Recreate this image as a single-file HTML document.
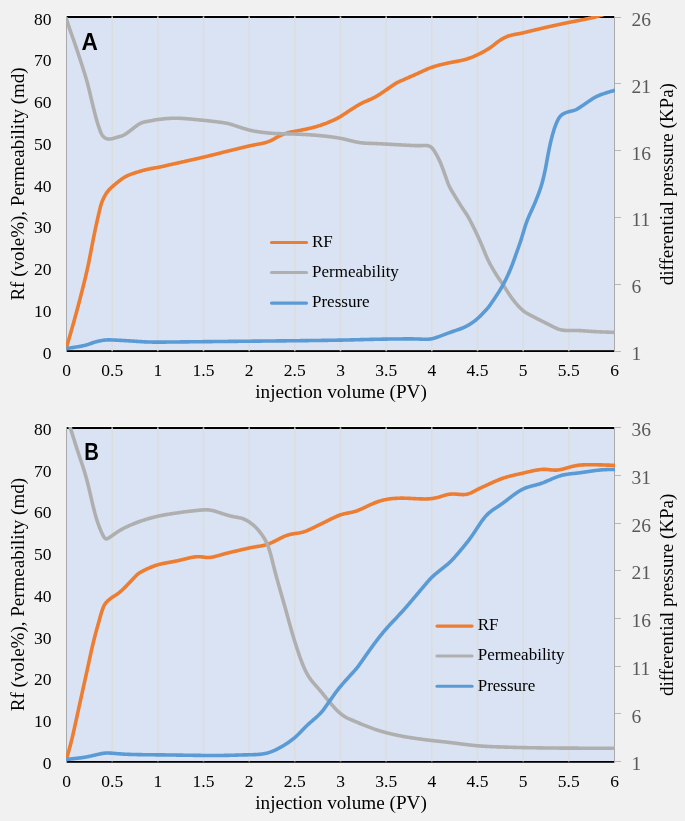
<!DOCTYPE html>
<html><head><meta charset="utf-8"><style>
html,body{margin:0;padding:0;background:#F1F1F1;}
svg{display:block;will-change:transform;}
</style></head><body>
<svg width="685" height="821" viewBox="0 0 685 821">
<rect width="685" height="821" fill="#F1F1F1"/>
<clipPath id="ca"><rect x="66" y="16" width="549" height="336"/></clipPath>
<rect x="66" y="16" width="549" height="336" fill="#DAE3F3"/>
<rect x="66" y="15" width="549" height="1" fill="#FAFAFA"/>
<rect x="66" y="16" width="549" height="2" fill="#000"/>
<rect x="66" y="350" width="549" height="1" fill="#2A2A2A"/>
<rect x="66" y="351" width="549" height="1" fill="#000"/>
<rect x="111.37" y="18" width="1.6" height="332" fill="#DCDDDE"/>
<rect x="111.37" y="16" width="1.6" height="1" fill="#808080"/>
<rect x="111.37" y="17" width="1.6" height="1" fill="#C8C8C8"/>
<rect x="111.37" y="350" width="1.6" height="1" fill="#B8B8B8"/>
<rect x="111.37" y="351" width="1.6" height="1" fill="#3A3A3A"/>
<rect x="157.03" y="18" width="1.6" height="332" fill="#DCDDDE"/>
<rect x="157.03" y="16" width="1.6" height="1" fill="#808080"/>
<rect x="157.03" y="17" width="1.6" height="1" fill="#C8C8C8"/>
<rect x="157.03" y="350" width="1.6" height="1" fill="#B8B8B8"/>
<rect x="157.03" y="351" width="1.6" height="1" fill="#3A3A3A"/>
<rect x="202.70" y="18" width="1.6" height="332" fill="#DCDDDE"/>
<rect x="202.70" y="16" width="1.6" height="1" fill="#808080"/>
<rect x="202.70" y="17" width="1.6" height="1" fill="#C8C8C8"/>
<rect x="202.70" y="350" width="1.6" height="1" fill="#B8B8B8"/>
<rect x="202.70" y="351" width="1.6" height="1" fill="#3A3A3A"/>
<rect x="248.37" y="18" width="1.6" height="332" fill="#DCDDDE"/>
<rect x="248.37" y="16" width="1.6" height="1" fill="#808080"/>
<rect x="248.37" y="17" width="1.6" height="1" fill="#C8C8C8"/>
<rect x="248.37" y="350" width="1.6" height="1" fill="#B8B8B8"/>
<rect x="248.37" y="351" width="1.6" height="1" fill="#3A3A3A"/>
<rect x="294.03" y="18" width="1.6" height="332" fill="#DCDDDE"/>
<rect x="294.03" y="16" width="1.6" height="1" fill="#808080"/>
<rect x="294.03" y="17" width="1.6" height="1" fill="#C8C8C8"/>
<rect x="294.03" y="350" width="1.6" height="1" fill="#B8B8B8"/>
<rect x="294.03" y="351" width="1.6" height="1" fill="#3A3A3A"/>
<rect x="339.70" y="18" width="1.6" height="332" fill="#DCDDDE"/>
<rect x="339.70" y="16" width="1.6" height="1" fill="#808080"/>
<rect x="339.70" y="17" width="1.6" height="1" fill="#C8C8C8"/>
<rect x="339.70" y="350" width="1.6" height="1" fill="#B8B8B8"/>
<rect x="339.70" y="351" width="1.6" height="1" fill="#3A3A3A"/>
<rect x="385.37" y="18" width="1.6" height="332" fill="#DCDDDE"/>
<rect x="385.37" y="16" width="1.6" height="1" fill="#808080"/>
<rect x="385.37" y="17" width="1.6" height="1" fill="#C8C8C8"/>
<rect x="385.37" y="350" width="1.6" height="1" fill="#B8B8B8"/>
<rect x="385.37" y="351" width="1.6" height="1" fill="#3A3A3A"/>
<rect x="431.03" y="18" width="1.6" height="332" fill="#DCDDDE"/>
<rect x="431.03" y="16" width="1.6" height="1" fill="#808080"/>
<rect x="431.03" y="17" width="1.6" height="1" fill="#C8C8C8"/>
<rect x="431.03" y="350" width="1.6" height="1" fill="#B8B8B8"/>
<rect x="431.03" y="351" width="1.6" height="1" fill="#3A3A3A"/>
<rect x="476.70" y="18" width="1.6" height="332" fill="#DCDDDE"/>
<rect x="476.70" y="16" width="1.6" height="1" fill="#808080"/>
<rect x="476.70" y="17" width="1.6" height="1" fill="#C8C8C8"/>
<rect x="476.70" y="350" width="1.6" height="1" fill="#B8B8B8"/>
<rect x="476.70" y="351" width="1.6" height="1" fill="#3A3A3A"/>
<rect x="522.37" y="18" width="1.6" height="332" fill="#DCDDDE"/>
<rect x="522.37" y="16" width="1.6" height="1" fill="#808080"/>
<rect x="522.37" y="17" width="1.6" height="1" fill="#C8C8C8"/>
<rect x="522.37" y="350" width="1.6" height="1" fill="#B8B8B8"/>
<rect x="522.37" y="351" width="1.6" height="1" fill="#3A3A3A"/>
<rect x="568.03" y="18" width="1.6" height="332" fill="#DCDDDE"/>
<rect x="568.03" y="16" width="1.6" height="1" fill="#808080"/>
<rect x="568.03" y="17" width="1.6" height="1" fill="#C8C8C8"/>
<rect x="568.03" y="350" width="1.6" height="1" fill="#B8B8B8"/>
<rect x="568.03" y="351" width="1.6" height="1" fill="#3A3A3A"/>
<rect x="66" y="16" width="1" height="336" fill="#A9A9A9"/>
<rect x="614" y="16" width="1" height="336" fill="#A9A9A9"/>
<path d="M66.30,348.00 L66.50,347.33 L66.69,346.65 L66.89,345.98 L67.09,345.31 L67.29,344.64 L67.49,343.97 L67.68,343.29 L67.88,342.62 L68.08,341.95 L68.28,341.28 L68.48,340.60 L68.67,339.93 L68.87,339.26 L69.07,338.59 L69.26,337.91 L69.46,337.24 L69.66,336.57 L69.85,335.89 L70.05,335.22 L70.24,334.55 L70.44,333.87 L70.63,333.20 L70.83,332.53 L71.02,331.85 L71.21,331.18 L71.41,330.51 L71.60,329.83 L71.79,329.16 L71.98,328.48 L72.17,327.81 L72.36,327.13 L72.55,326.46 L72.74,325.78 L72.93,325.11 L73.12,324.43 L73.30,323.76 L73.49,323.08 L73.68,322.41 L73.87,321.73 L74.05,321.06 L74.24,320.38 L74.43,319.71 L74.61,319.03 L74.80,318.36 L74.99,317.68 L75.17,317.00 L75.36,316.33 L75.54,315.65 L75.73,314.98 L75.91,314.30 L76.10,313.62 L76.28,312.95 L76.46,312.27 L76.65,311.59 L76.83,310.92 L77.01,310.24 L77.19,309.56 L77.38,308.89 L77.56,308.21 L77.74,307.53 L77.92,306.86 L78.10,306.18 L78.28,305.50 L78.46,304.82 L78.64,304.15 L78.82,303.47 L79.00,302.79 L79.17,302.11 L79.35,301.43 L79.53,300.76 L79.70,300.08 L79.88,299.40 L80.06,298.72 L80.23,298.04 L80.41,297.36 L80.58,296.68 L80.76,296.01 L80.93,295.33 L81.10,294.65 L81.28,293.97 L81.45,293.29 L81.63,292.61 L81.80,291.93 L81.97,291.25 L82.14,290.57 L82.32,289.89 L82.49,289.21 L82.66,288.53 L82.83,287.85 L83.00,287.17 L83.17,286.49 L83.34,285.82 L83.51,285.14 L83.68,284.45 L83.85,283.77 L84.02,283.09 L84.19,282.41 L84.35,281.73 L84.52,281.05 L84.69,280.37 L84.86,279.69 L85.02,279.01 L85.19,278.33 L85.35,277.65 L85.52,276.97 L85.68,276.28 L85.84,275.60 L86.00,274.92 L86.16,274.24 L86.33,273.56 L86.48,272.87 L86.64,272.19 L86.80,271.51 L86.96,270.83 L87.11,270.14 L87.27,269.46 L87.42,268.77 L87.57,268.09 L87.72,267.40 L87.86,266.72 L88.01,266.03 L88.16,265.35 L88.30,264.66 L88.44,263.98 L88.58,263.29 L88.72,262.60 L88.86,261.91 L88.99,261.23 L89.13,260.54 L89.26,259.85 L89.40,259.16 L89.53,258.48 L89.66,257.79 L89.80,257.10 L89.93,256.41 L90.06,255.72 L90.20,255.03 L90.33,254.35 L90.46,253.66 L90.60,252.97 L90.73,252.28 L90.87,251.59 L91.00,250.91 L91.14,250.22 L91.27,249.53 L91.41,248.84 L91.54,248.16 L91.68,247.47 L91.81,246.78 L91.95,246.09 L92.08,245.41 L92.22,244.72 L92.35,244.03 L92.49,243.34 L92.62,242.65 L92.75,241.97 L92.89,241.28 L93.02,240.59 L93.16,239.90 L93.29,239.21 L93.42,238.53 L93.56,237.84 L93.69,237.15 L93.83,236.46 L93.97,235.77 L94.10,235.09 L94.24,234.40 L94.38,233.71 L94.52,233.03 L94.66,232.34 L94.80,231.65 L94.94,230.97 L95.08,230.28 L95.23,229.59 L95.37,228.91 L95.52,228.22 L95.66,227.54 L95.81,226.85 L95.96,226.17 L96.11,225.48 L96.26,224.80 L96.41,224.11 L96.56,223.43 L96.71,222.74 L96.87,222.06 L97.02,221.38 L97.17,220.69 L97.33,220.01 L97.48,219.33 L97.64,218.64 L97.79,217.96 L97.95,217.28 L98.11,216.59 L98.27,215.91 L98.42,215.23 L98.58,214.54 L98.74,213.86 L98.90,213.18 L99.07,212.50 L99.23,211.82 L99.39,211.13 L99.55,210.45 L99.72,209.77 L99.88,209.09 L100.05,208.41 L100.22,207.73 L100.39,207.05 L100.57,206.37 L100.76,205.70 L100.95,205.02 L101.15,204.35 L101.36,203.68 L101.58,203.02 L101.81,202.36 L102.06,201.70 L102.32,201.05 L102.59,200.41 L102.87,199.77 L103.17,199.14 L103.48,198.51 L103.79,197.88 L104.11,197.26 L104.43,196.63 L104.76,196.01 L105.09,195.40 L105.43,194.79 L105.78,194.18 L106.14,193.58 L106.52,193.00 L106.92,192.42 L107.33,191.86 L107.76,191.31 L108.20,190.77 L108.66,190.24 L109.13,189.72 L109.62,189.22 L110.11,188.72 L110.61,188.23 L111.12,187.75 L111.63,187.27 L112.15,186.80 L112.68,186.34 L113.21,185.88 L113.74,185.43 L114.28,184.98 L114.81,184.52 L115.35,184.08 L115.89,183.63 L116.43,183.18 L116.97,182.74 L117.52,182.30 L118.07,181.86 L118.61,181.42 L119.17,180.99 L119.72,180.57 L120.28,180.14 L120.84,179.72 L121.41,179.31 L121.98,178.91 L122.56,178.51 L123.14,178.12 L123.73,177.74 L124.32,177.37 L124.92,177.02 L125.53,176.67 L126.15,176.34 L126.77,176.03 L127.40,175.72 L128.04,175.43 L128.68,175.15 L129.33,174.88 L129.98,174.62 L130.63,174.37 L131.29,174.12 L131.95,173.89 L132.61,173.66 L133.27,173.43 L133.94,173.21 L134.60,172.99 L135.27,172.77 L135.93,172.55 L136.60,172.34 L137.27,172.12 L137.94,171.91 L138.61,171.71 L139.28,171.50 L139.95,171.30 L140.62,171.10 L141.29,170.91 L141.97,170.72 L142.65,170.54 L143.32,170.36 L144.00,170.18 L144.68,170.00 L145.36,169.83 L146.04,169.67 L146.72,169.50 L147.40,169.35 L148.09,169.19 L148.77,169.04 L149.46,168.90 L150.14,168.76 L150.83,168.62 L151.52,168.49 L152.21,168.36 L152.90,168.24 L153.59,168.12 L154.28,168.00 L154.97,167.89 L155.66,167.77 L156.35,167.65 L157.05,167.53 L157.74,167.41 L158.42,167.28 L159.11,167.15 L159.80,167.02 L160.49,166.88 L161.17,166.74 L161.86,166.59 L162.54,166.44 L163.23,166.29 L163.91,166.14 L164.59,165.98 L165.28,165.82 L165.96,165.66 L166.64,165.50 L167.33,165.34 L168.01,165.19 L168.69,165.03 L169.37,164.87 L170.06,164.72 L170.74,164.56 L171.43,164.41 L172.11,164.25 L172.79,164.10 L173.48,163.94 L174.16,163.79 L174.84,163.64 L175.53,163.48 L176.21,163.33 L176.90,163.18 L177.58,163.02 L178.26,162.87 L178.95,162.72 L179.63,162.56 L180.32,162.41 L181.00,162.26 L181.68,162.11 L182.37,161.95 L183.05,161.80 L183.74,161.65 L184.42,161.49 L185.10,161.34 L185.79,161.19 L186.47,161.03 L187.16,160.88 L187.84,160.73 L188.52,160.57 L189.21,160.42 L189.89,160.27 L190.58,160.11 L191.26,159.96 L191.94,159.80 L192.63,159.65 L193.31,159.49 L193.99,159.34 L194.68,159.19 L195.36,159.03 L196.04,158.88 L196.73,158.72 L197.41,158.56 L198.09,158.41 L198.78,158.25 L199.46,158.10 L200.14,157.94 L200.83,157.78 L201.51,157.62 L202.19,157.47 L202.88,157.31 L203.56,157.15 L204.24,156.99 L204.92,156.83 L205.60,156.67 L206.29,156.50 L206.97,156.34 L207.65,156.18 L208.33,156.01 L209.01,155.85 L209.69,155.68 L210.37,155.52 L211.06,155.35 L211.74,155.18 L212.42,155.01 L213.10,154.84 L213.78,154.67 L214.46,154.50 L215.14,154.33 L215.82,154.16 L216.50,153.99 L217.17,153.82 L217.85,153.65 L218.53,153.47 L219.21,153.30 L219.89,153.13 L220.57,152.96 L221.25,152.79 L221.93,152.61 L222.61,152.44 L223.29,152.27 L223.97,152.10 L224.65,151.93 L225.33,151.77 L226.01,151.60 L226.69,151.43 L227.37,151.26 L228.05,151.09 L228.73,150.92 L229.41,150.76 L230.09,150.59 L230.77,150.42 L231.45,150.25 L232.14,150.08 L232.82,149.91 L233.50,149.74 L234.18,149.57 L234.86,149.41 L235.54,149.24 L236.22,149.07 L236.90,148.90 L237.58,148.73 L238.26,148.57 L238.94,148.40 L239.62,148.23 L240.30,148.06 L240.98,147.90 L241.66,147.73 L242.34,147.57 L243.03,147.40 L243.71,147.24 L244.39,147.08 L245.07,146.92 L245.75,146.76 L246.44,146.60 L247.12,146.44 L247.80,146.28 L248.48,146.13 L249.17,145.97 L249.85,145.82 L250.54,145.68 L251.22,145.53 L251.91,145.39 L252.60,145.25 L253.29,145.12 L253.97,144.98 L254.66,144.85 L255.35,144.72 L256.04,144.59 L256.73,144.46 L257.42,144.34 L258.11,144.21 L258.80,144.08 L259.49,143.95 L260.17,143.82 L260.86,143.69 L261.55,143.55 L262.23,143.41 L262.92,143.26 L263.60,143.10 L264.28,142.94 L264.96,142.76 L265.64,142.57 L266.31,142.38 L266.97,142.16 L267.63,141.94 L268.29,141.69 L268.94,141.43 L269.58,141.16 L270.22,140.88 L270.86,140.58 L271.49,140.27 L272.11,139.96 L272.73,139.63 L273.35,139.30 L273.96,138.96 L274.57,138.62 L275.18,138.27 L275.78,137.92 L276.39,137.57 L277.00,137.22 L277.61,136.88 L278.23,136.55 L278.85,136.23 L279.48,135.92 L280.12,135.63 L280.75,135.34 L281.40,135.07 L282.05,134.80 L282.70,134.55 L283.35,134.30 L284.01,134.06 L284.67,133.82 L285.33,133.59 L286.00,133.37 L286.67,133.16 L287.34,132.96 L288.01,132.76 L288.68,132.58 L289.36,132.41 L290.04,132.25 L290.73,132.10 L291.42,131.97 L292.10,131.84 L292.79,131.71 L293.48,131.59 L294.17,131.47 L294.86,131.34 L295.55,131.22 L296.24,131.09 L296.93,130.95 L297.62,130.82 L298.30,130.68 L298.99,130.55 L299.68,130.41 L300.37,130.28 L301.06,130.14 L301.74,130.01 L302.43,129.87 L303.12,129.73 L303.80,129.59 L304.49,129.45 L305.18,129.31 L305.86,129.17 L306.55,129.02 L307.24,128.88 L307.92,128.73 L308.60,128.57 L309.29,128.42 L309.97,128.26 L310.65,128.10 L311.33,127.93 L312.01,127.77 L312.69,127.59 L313.37,127.42 L314.05,127.23 L314.72,127.05 L315.40,126.86 L316.07,126.67 L316.74,126.47 L317.42,126.27 L318.09,126.06 L318.75,125.85 L319.42,125.64 L320.09,125.42 L320.75,125.20 L321.42,124.98 L322.08,124.75 L322.74,124.52 L323.40,124.29 L324.06,124.05 L324.72,123.81 L325.38,123.56 L326.03,123.31 L326.68,123.06 L327.33,122.80 L327.98,122.53 L328.63,122.27 L329.28,122.00 L329.93,121.73 L330.57,121.45 L331.21,121.18 L331.86,120.90 L332.50,120.62 L333.14,120.33 L333.78,120.04 L334.41,119.75 L335.05,119.44 L335.67,119.14 L336.30,118.82 L336.92,118.50 L337.54,118.17 L338.15,117.83 L338.76,117.49 L339.37,117.14 L339.98,116.78 L340.58,116.43 L341.18,116.06 L341.77,115.69 L342.37,115.32 L342.96,114.95 L343.55,114.57 L344.14,114.19 L344.72,113.80 L345.31,113.42 L345.90,113.03 L346.48,112.65 L347.06,112.26 L347.65,111.87 L348.23,111.48 L348.82,111.10 L349.40,110.71 L349.98,110.32 L350.57,109.94 L351.15,109.55 L351.74,109.17 L352.33,108.78 L352.92,108.40 L353.50,108.02 L354.09,107.64 L354.69,107.27 L355.28,106.89 L355.87,106.52 L356.47,106.15 L357.07,105.79 L357.67,105.43 L358.28,105.08 L358.88,104.73 L359.49,104.39 L360.11,104.05 L360.73,103.72 L361.35,103.40 L361.98,103.09 L362.61,102.78 L363.24,102.48 L363.88,102.19 L364.52,101.90 L365.16,101.62 L365.80,101.34 L366.45,101.07 L367.09,100.80 L367.74,100.52 L368.38,100.25 L369.03,99.98 L369.67,99.70 L370.31,99.42 L370.95,99.13 L371.59,98.84 L372.22,98.54 L372.85,98.23 L373.48,97.92 L374.10,97.60 L374.72,97.27 L375.34,96.93 L375.95,96.59 L376.55,96.24 L377.15,95.88 L377.75,95.52 L378.35,95.15 L378.94,94.78 L379.53,94.40 L380.12,94.02 L380.71,93.64 L381.29,93.25 L381.88,92.86 L382.46,92.47 L383.04,92.08 L383.62,91.68 L384.20,91.29 L384.78,90.89 L385.35,90.49 L385.93,90.10 L386.51,89.70 L387.08,89.30 L387.66,88.90 L388.23,88.49 L388.81,88.09 L389.38,87.69 L389.96,87.29 L390.53,86.89 L391.11,86.49 L391.68,86.09 L392.26,85.69 L392.84,85.30 L393.42,84.90 L394.00,84.51 L394.58,84.13 L395.17,83.75 L395.77,83.39 L396.37,83.03 L396.98,82.70 L397.60,82.38 L398.22,82.07 L398.85,81.78 L399.49,81.50 L400.13,81.22 L400.77,80.94 L401.42,80.66 L402.06,80.38 L402.70,80.10 L403.34,79.81 L403.98,79.53 L404.62,79.25 L405.26,78.96 L405.90,78.68 L406.55,78.40 L407.19,78.11 L407.83,77.83 L408.47,77.55 L409.11,77.27 L409.75,76.99 L410.39,76.70 L411.04,76.42 L411.68,76.14 L412.32,75.86 L412.96,75.58 L413.60,75.30 L414.25,75.01 L414.89,74.73 L415.53,74.45 L416.17,74.16 L416.81,73.88 L417.45,73.59 L418.09,73.30 L418.72,73.01 L419.36,72.72 L420.00,72.42 L420.63,72.13 L421.27,71.83 L421.90,71.54 L422.54,71.24 L423.18,70.95 L423.81,70.66 L424.45,70.37 L425.09,70.08 L425.73,69.79 L426.37,69.51 L427.02,69.23 L427.66,68.96 L428.31,68.69 L428.95,68.42 L429.61,68.16 L430.26,67.91 L430.91,67.66 L431.57,67.42 L432.23,67.19 L432.90,66.96 L433.56,66.74 L434.23,66.53 L434.90,66.32 L435.57,66.12 L436.24,65.92 L436.91,65.73 L437.59,65.54 L438.27,65.36 L438.94,65.18 L439.62,65.01 L440.30,64.84 L440.98,64.67 L441.67,64.51 L442.35,64.34 L443.03,64.18 L443.71,64.03 L444.40,63.87 L445.08,63.71 L445.76,63.56 L446.45,63.40 L447.13,63.25 L447.81,63.10 L448.50,62.95 L449.18,62.80 L449.87,62.66 L450.56,62.52 L451.24,62.38 L451.93,62.25 L452.62,62.12 L453.31,61.99 L454.00,61.86 L454.69,61.74 L455.38,61.62 L456.07,61.49 L456.76,61.37 L457.45,61.24 L458.14,61.11 L458.83,60.98 L459.51,60.85 L460.20,60.71 L460.89,60.57 L461.57,60.42 L462.25,60.26 L462.93,60.09 L463.61,59.92 L464.29,59.74 L464.96,59.55 L465.64,59.36 L466.31,59.16 L466.98,58.95 L467.65,58.74 L468.31,58.52 L468.97,58.29 L469.64,58.06 L470.29,57.82 L470.95,57.58 L471.61,57.33 L472.26,57.07 L472.91,56.81 L473.56,56.54 L474.20,56.27 L474.84,55.99 L475.49,55.71 L476.13,55.42 L476.76,55.13 L477.40,54.84 L478.03,54.54 L478.66,54.23 L479.29,53.92 L479.92,53.61 L480.54,53.29 L481.16,52.97 L481.78,52.64 L482.40,52.31 L483.02,51.97 L483.63,51.63 L484.24,51.29 L484.85,50.94 L485.46,50.59 L486.06,50.24 L486.66,49.88 L487.26,49.52 L487.86,49.16 L488.46,48.79 L489.05,48.41 L489.64,48.03 L490.22,47.64 L490.80,47.24 L491.37,46.84 L491.93,46.42 L492.49,46.00 L493.05,45.58 L493.60,45.14 L494.14,44.71 L494.69,44.27 L495.24,43.82 L495.78,43.38 L496.33,42.95 L496.88,42.52 L497.44,42.09 L498.00,41.67 L498.57,41.26 L499.14,40.87 L499.72,40.48 L500.31,40.10 L500.91,39.72 L501.50,39.36 L502.11,39.00 L502.72,38.66 L503.33,38.32 L503.95,37.99 L504.57,37.67 L505.20,37.37 L505.84,37.07 L506.48,36.79 L507.12,36.52 L507.77,36.27 L508.43,36.03 L509.09,35.81 L509.76,35.60 L510.43,35.40 L511.11,35.22 L511.79,35.06 L512.47,34.90 L513.16,34.76 L513.84,34.62 L514.53,34.50 L515.22,34.37 L515.91,34.25 L516.60,34.13 L517.29,34.01 L517.98,33.89 L518.67,33.76 L519.36,33.63 L520.05,33.49 L520.74,33.35 L521.42,33.21 L522.11,33.06 L522.79,32.91 L523.47,32.75 L524.16,32.59 L524.84,32.43 L525.52,32.27 L526.20,32.11 L526.88,31.95 L527.57,31.78 L528.25,31.62 L528.93,31.45 L529.61,31.29 L530.29,31.12 L530.97,30.95 L531.65,30.79 L532.33,30.62 L533.01,30.45 L533.69,30.29 L534.37,30.12 L535.06,29.95 L535.74,29.79 L536.42,29.62 L537.10,29.46 L537.78,29.29 L538.46,29.13 L539.14,28.96 L539.82,28.80 L540.51,28.64 L541.19,28.48 L541.87,28.32 L542.55,28.16 L543.23,28.00 L543.92,27.84 L544.60,27.68 L545.28,27.52 L545.97,27.37 L546.65,27.21 L547.33,27.06 L548.02,26.90 L548.70,26.75 L549.39,26.60 L550.07,26.44 L550.75,26.29 L551.44,26.14 L552.12,25.99 L552.81,25.84 L553.49,25.69 L554.18,25.54 L554.86,25.39 L555.55,25.24 L556.23,25.09 L556.92,24.94 L557.60,24.79 L558.29,24.65 L558.97,24.50 L559.66,24.35 L560.34,24.21 L561.03,24.06 L561.71,23.91 L562.40,23.77 L563.08,23.62 L563.77,23.48 L564.46,23.33 L565.14,23.19 L565.83,23.05 L566.51,22.90 L567.20,22.76 L567.89,22.62 L568.57,22.48 L569.26,22.34 L569.95,22.20 L570.64,22.07 L571.32,21.93 L572.01,21.80 L572.70,21.66 L573.39,21.53 L574.08,21.40 L574.76,21.27 L575.45,21.13 L576.14,21.00 L576.83,20.87 L577.52,20.74 L578.21,20.61 L578.89,20.48 L579.58,20.34 L580.27,20.21 L580.96,20.08 L581.65,19.94 L582.33,19.81 L583.02,19.67 L583.71,19.53 L584.40,19.39 L585.08,19.25 L585.77,19.11 L586.45,18.96 L587.14,18.82 L587.83,18.67 L588.51,18.52 L589.20,18.38 L589.88,18.23 L590.57,18.08 L591.25,17.92 L591.93,17.77 L592.62,17.62 L593.30,17.46 L593.98,17.30 L594.66,17.13 L595.34,16.96 L596.02,16.79 L596.70,16.61 L597.38,16.43 L598.05,16.24 L598.73,16.05 L599.40,15.86 L600.07,15.65 L600.74,15.45 L601.41,15.24 L602.08,15.02 L602.74,14.80 L603.40,14.58 L604.07,14.35 L604.73,14.12 L605.39,13.89 L606.05,13.65 L606.71,13.41 L607.37,13.18 L608.03,12.94 L608.69,12.69 L609.34,12.45 L610.00,12.21 L610.66,11.96 L611.31,11.72 L611.97,11.47 L612.63,11.23 L613.29,10.99 L613.94,10.74 L614.60,10.50" fill="none" stroke="#ED7D31" stroke-width="3.6" stroke-linejoin="round" stroke-linecap="round" clip-path="url(#ca)"/>
<path d="M66.30,18.50 L66.50,19.17 L66.71,19.84 L66.91,20.51 L67.12,21.18 L67.33,21.85 L67.54,22.52 L67.75,23.19 L67.97,23.85 L68.18,24.52 L68.40,25.19 L68.62,25.85 L68.85,26.52 L69.07,27.18 L69.30,27.84 L69.53,28.51 L69.76,29.17 L69.99,29.83 L70.22,30.49 L70.45,31.15 L70.69,31.81 L70.92,32.47 L71.15,33.14 L71.39,33.80 L71.62,34.46 L71.86,35.12 L72.09,35.78 L72.33,36.44 L72.56,37.10 L72.79,37.76 L73.03,38.42 L73.26,39.08 L73.49,39.74 L73.72,40.40 L73.96,41.07 L74.19,41.73 L74.42,42.39 L74.65,43.05 L74.87,43.72 L75.10,44.38 L75.33,45.04 L75.56,45.71 L75.78,46.37 L76.00,47.03 L76.23,47.70 L76.45,48.36 L76.67,49.03 L76.89,49.69 L77.12,50.36 L77.34,51.02 L77.56,51.69 L77.78,52.35 L78.00,53.02 L78.22,53.68 L78.44,54.35 L78.66,55.02 L78.88,55.68 L79.10,56.35 L79.32,57.01 L79.54,57.68 L79.76,58.34 L79.98,59.01 L80.19,59.68 L80.41,60.34 L80.63,61.01 L80.85,61.67 L81.06,62.34 L81.28,63.01 L81.50,63.67 L81.71,64.34 L81.93,65.01 L82.14,65.68 L82.36,66.34 L82.57,67.01 L82.79,67.68 L83.00,68.35 L83.21,69.01 L83.42,69.68 L83.63,70.35 L83.85,71.02 L84.06,71.69 L84.26,72.36 L84.47,73.03 L84.68,73.70 L84.89,74.37 L85.09,75.04 L85.29,75.71 L85.50,76.38 L85.70,77.05 L85.90,77.72 L86.10,78.39 L86.29,79.07 L86.49,79.74 L86.68,80.41 L86.87,81.09 L87.06,81.76 L87.25,82.44 L87.43,83.12 L87.61,83.79 L87.79,84.47 L87.97,85.15 L88.14,85.83 L88.32,86.51 L88.49,87.19 L88.66,87.87 L88.83,88.55 L88.99,89.23 L89.16,89.91 L89.32,90.59 L89.48,91.27 L89.65,91.95 L89.81,92.64 L89.97,93.32 L90.13,94.00 L90.28,94.68 L90.44,95.37 L90.60,96.05 L90.76,96.73 L90.92,97.42 L91.08,98.10 L91.24,98.78 L91.41,99.46 L91.57,100.14 L91.74,100.82 L91.90,101.50 L92.07,102.19 L92.24,102.87 L92.41,103.55 L92.58,104.23 L92.74,104.91 L92.91,105.59 L93.08,106.27 L93.25,106.95 L93.41,107.63 L93.58,108.31 L93.75,108.99 L93.92,109.67 L94.08,110.35 L94.25,111.03 L94.42,111.71 L94.59,112.39 L94.76,113.07 L94.94,113.75 L95.11,114.43 L95.28,115.11 L95.46,115.79 L95.64,116.47 L95.82,117.14 L96.01,117.82 L96.19,118.50 L96.38,119.17 L96.57,119.84 L96.77,120.52 L96.96,121.19 L97.16,121.86 L97.36,122.53 L97.57,123.20 L97.78,123.87 L97.99,124.54 L98.21,125.21 L98.43,125.87 L98.65,126.54 L98.88,127.20 L99.11,127.86 L99.34,128.52 L99.58,129.18 L99.82,129.84 L100.07,130.50 L100.32,131.15 L100.58,131.80 L100.85,132.45 L101.14,133.08 L101.43,133.71 L101.75,134.33 L102.10,134.93 L102.48,135.51 L102.89,136.06 L103.34,136.57 L103.83,137.04 L104.36,137.47 L104.92,137.85 L105.51,138.18 L106.13,138.46 L106.77,138.69 L107.43,138.87 L108.09,138.99 L108.77,139.05 L109.45,139.06 L110.13,139.01 L110.82,138.92 L111.50,138.80 L112.18,138.66 L112.86,138.49 L113.54,138.32 L114.21,138.13 L114.89,137.94 L115.56,137.74 L116.23,137.54 L116.90,137.35 L117.58,137.15 L118.25,136.95 L118.92,136.76 L119.60,136.57 L120.27,136.37 L120.93,136.16 L121.60,135.94 L122.25,135.70 L122.90,135.43 L123.53,135.15 L124.15,134.84 L124.77,134.50 L125.37,134.15 L125.96,133.77 L126.54,133.39 L127.11,132.99 L127.68,132.58 L128.25,132.16 L128.80,131.74 L129.36,131.31 L129.92,130.89 L130.47,130.45 L131.02,130.02 L131.57,129.59 L132.13,129.16 L132.68,128.73 L133.24,128.31 L133.80,127.88 L134.36,127.46 L134.92,127.04 L135.48,126.63 L136.05,126.21 L136.61,125.80 L137.18,125.39 L137.76,124.99 L138.34,124.60 L138.92,124.22 L139.52,123.87 L140.13,123.53 L140.76,123.22 L141.39,122.94 L142.04,122.68 L142.70,122.45 L143.36,122.25 L144.04,122.07 L144.72,121.90 L145.40,121.75 L146.09,121.61 L146.77,121.49 L147.46,121.37 L148.16,121.25 L148.85,121.14 L149.54,121.02 L150.23,120.91 L150.92,120.78 L151.61,120.65 L152.29,120.52 L152.98,120.37 L153.66,120.23 L154.34,120.08 L155.03,119.95 L155.72,119.83 L156.41,119.72 L157.10,119.62 L157.80,119.54 L158.49,119.45 L159.19,119.37 L159.88,119.29 L160.58,119.21 L161.28,119.14 L161.97,119.06 L162.67,118.98 L163.37,118.91 L164.07,118.84 L164.76,118.77 L165.46,118.71 L166.16,118.64 L166.86,118.58 L167.56,118.53 L168.25,118.48 L168.95,118.43 L169.65,118.38 L170.35,118.35 L171.05,118.31 L171.75,118.28 L172.45,118.26 L173.15,118.24 L173.86,118.22 L174.56,118.22 L175.26,118.21 L175.96,118.22 L176.66,118.23 L177.36,118.24 L178.06,118.26 L178.76,118.28 L179.46,118.31 L180.16,118.34 L180.86,118.37 L181.56,118.41 L182.26,118.45 L182.96,118.49 L183.66,118.54 L184.36,118.58 L185.06,118.63 L185.76,118.68 L186.46,118.74 L187.16,118.79 L187.85,118.85 L188.55,118.90 L189.25,118.96 L189.95,119.02 L190.65,119.08 L191.35,119.15 L192.04,119.21 L192.74,119.27 L193.44,119.34 L194.14,119.40 L194.84,119.47 L195.53,119.54 L196.23,119.60 L196.93,119.67 L197.63,119.74 L198.32,119.81 L199.02,119.88 L199.72,119.95 L200.42,120.02 L201.11,120.09 L201.81,120.16 L202.51,120.23 L203.21,120.30 L203.90,120.37 L204.60,120.44 L205.30,120.51 L206.00,120.58 L206.69,120.66 L207.39,120.73 L208.09,120.80 L208.78,120.88 L209.48,120.95 L210.18,121.03 L210.88,121.10 L211.57,121.18 L212.27,121.26 L212.97,121.34 L213.66,121.42 L214.36,121.50 L215.05,121.58 L215.75,121.67 L216.45,121.75 L217.14,121.84 L217.84,121.93 L218.53,122.02 L219.23,122.11 L219.92,122.20 L220.62,122.30 L221.31,122.40 L222.00,122.50 L222.70,122.60 L223.39,122.71 L224.08,122.82 L224.77,122.94 L225.46,123.06 L226.15,123.18 L226.84,123.32 L227.53,123.46 L228.21,123.61 L228.89,123.77 L229.57,123.94 L230.25,124.12 L230.92,124.31 L231.59,124.51 L232.26,124.72 L232.92,124.94 L233.59,125.17 L234.25,125.39 L234.91,125.62 L235.58,125.85 L236.24,126.07 L236.91,126.29 L237.57,126.51 L238.24,126.72 L238.91,126.94 L239.58,127.15 L240.24,127.36 L240.91,127.57 L241.58,127.78 L242.25,128.00 L242.92,128.21 L243.59,128.42 L244.26,128.63 L244.93,128.83 L245.60,129.03 L246.27,129.23 L246.94,129.42 L247.62,129.61 L248.30,129.79 L248.97,129.97 L249.65,130.13 L250.34,130.30 L251.02,130.46 L251.70,130.61 L252.39,130.75 L253.08,130.89 L253.76,131.02 L254.45,131.15 L255.14,131.27 L255.83,131.39 L256.53,131.50 L257.22,131.60 L257.91,131.71 L258.61,131.81 L259.30,131.91 L259.99,132.00 L260.69,132.09 L261.38,132.19 L262.08,132.28 L262.77,132.36 L263.47,132.45 L264.17,132.53 L264.86,132.61 L265.56,132.69 L266.26,132.77 L266.95,132.84 L267.65,132.91 L268.35,132.97 L269.05,133.04 L269.74,133.10 L270.44,133.15 L271.14,133.21 L271.84,133.26 L272.54,133.31 L273.24,133.35 L273.94,133.39 L274.64,133.43 L275.34,133.47 L276.04,133.50 L276.74,133.53 L277.44,133.56 L278.14,133.59 L278.84,133.61 L279.54,133.64 L280.24,133.66 L280.94,133.68 L281.64,133.70 L282.34,133.71 L283.05,133.73 L283.75,133.75 L284.45,133.77 L285.15,133.78 L285.85,133.80 L286.55,133.82 L287.25,133.83 L287.95,133.85 L288.65,133.87 L289.35,133.89 L290.05,133.91 L290.75,133.93 L291.45,133.95 L292.16,133.97 L292.86,133.99 L293.56,134.02 L294.26,134.05 L294.96,134.07 L295.66,134.10 L296.36,134.13 L297.06,134.16 L297.76,134.19 L298.46,134.22 L299.16,134.26 L299.86,134.29 L300.56,134.32 L301.26,134.35 L301.96,134.39 L302.66,134.42 L303.36,134.45 L304.06,134.49 L304.76,134.52 L305.46,134.56 L306.16,134.60 L306.86,134.63 L307.56,134.67 L308.26,134.71 L308.96,134.75 L309.66,134.80 L310.36,134.84 L311.06,134.89 L311.76,134.93 L312.46,134.98 L313.16,135.03 L313.86,135.09 L314.55,135.14 L315.25,135.20 L315.95,135.25 L316.65,135.31 L317.35,135.38 L318.05,135.44 L318.74,135.50 L319.44,135.57 L320.14,135.64 L320.84,135.71 L321.53,135.78 L322.23,135.85 L322.93,135.92 L323.63,135.99 L324.32,136.07 L325.02,136.15 L325.72,136.22 L326.41,136.30 L327.11,136.38 L327.81,136.47 L328.50,136.55 L329.20,136.64 L329.89,136.72 L330.59,136.81 L331.28,136.90 L331.98,136.99 L332.67,137.09 L333.37,137.18 L334.06,137.28 L334.76,137.38 L335.45,137.48 L336.14,137.59 L336.83,137.69 L337.53,137.80 L338.22,137.92 L338.91,138.03 L339.60,138.15 L340.29,138.27 L340.98,138.40 L341.67,138.54 L342.35,138.68 L343.04,138.82 L343.72,138.98 L344.41,139.13 L345.09,139.29 L345.77,139.46 L346.45,139.63 L347.13,139.80 L347.81,139.97 L348.49,140.14 L349.17,140.32 L349.85,140.50 L350.52,140.67 L351.20,140.84 L351.88,141.02 L352.56,141.19 L353.24,141.35 L353.93,141.51 L354.61,141.67 L355.29,141.82 L355.98,141.96 L356.67,142.10 L357.35,142.23 L358.04,142.35 L358.74,142.46 L359.43,142.57 L360.12,142.67 L360.82,142.76 L361.51,142.84 L362.21,142.91 L362.91,142.98 L363.61,143.04 L364.30,143.09 L365.00,143.14 L365.70,143.18 L366.40,143.22 L367.10,143.25 L367.80,143.28 L368.50,143.31 L369.20,143.33 L369.90,143.36 L370.61,143.38 L371.31,143.40 L372.01,143.42 L372.71,143.45 L373.41,143.47 L374.11,143.49 L374.81,143.52 L375.51,143.55 L376.21,143.58 L376.91,143.61 L377.61,143.64 L378.31,143.68 L379.01,143.71 L379.71,143.75 L380.41,143.78 L381.11,143.82 L381.81,143.86 L382.51,143.90 L383.21,143.94 L383.91,143.98 L384.61,144.01 L385.31,144.05 L386.01,144.09 L386.71,144.13 L387.41,144.17 L388.11,144.21 L388.81,144.25 L389.51,144.29 L390.21,144.33 L390.91,144.37 L391.61,144.40 L392.31,144.44 L393.01,144.48 L393.71,144.52 L394.41,144.56 L395.11,144.60 L395.81,144.64 L396.51,144.68 L397.21,144.71 L397.91,144.75 L398.61,144.79 L399.31,144.83 L400.01,144.87 L400.71,144.90 L401.41,144.94 L402.11,144.98 L402.81,145.02 L403.51,145.05 L404.21,145.09 L404.91,145.13 L405.61,145.16 L406.31,145.20 L407.01,145.23 L407.71,145.27 L408.41,145.30 L409.11,145.34 L409.81,145.37 L410.51,145.40 L411.21,145.44 L411.91,145.47 L412.61,145.50 L413.31,145.53 L414.01,145.55 L414.71,145.58 L415.41,145.60 L416.11,145.62 L416.81,145.63 L417.51,145.65 L418.21,145.65 L418.92,145.65 L419.62,145.65 L420.32,145.64 L421.02,145.62 L421.72,145.60 L422.42,145.57 L423.12,145.55 L423.82,145.53 L424.52,145.51 L425.22,145.51 L425.91,145.53 L426.61,145.57 L427.29,145.64 L427.97,145.75 L428.63,145.91 L429.28,146.12 L429.89,146.39 L430.48,146.71 L431.03,147.10 L431.55,147.53 L432.05,148.01 L432.51,148.52 L432.95,149.06 L433.37,149.61 L433.77,150.18 L434.15,150.77 L434.53,151.36 L434.89,151.95 L435.25,152.56 L435.60,153.16 L435.95,153.77 L436.30,154.38 L436.64,154.99 L436.97,155.61 L437.31,156.22 L437.64,156.84 L437.96,157.46 L438.28,158.09 L438.59,158.72 L438.90,159.35 L439.20,159.98 L439.50,160.61 L439.79,161.25 L440.08,161.89 L440.36,162.53 L440.63,163.18 L440.90,163.82 L441.17,164.47 L441.43,165.12 L441.68,165.77 L441.93,166.43 L442.18,167.08 L442.43,167.74 L442.67,168.40 L442.91,169.05 L443.16,169.71 L443.40,170.37 L443.63,171.03 L443.87,171.69 L444.11,172.35 L444.35,173.01 L444.59,173.67 L444.83,174.33 L445.07,174.99 L445.30,175.65 L445.53,176.31 L445.77,176.97 L446.00,177.63 L446.22,178.29 L446.45,178.96 L446.68,179.62 L446.91,180.28 L447.15,180.94 L447.38,181.60 L447.62,182.26 L447.87,182.91 L448.12,183.57 L448.39,184.22 L448.66,184.86 L448.94,185.51 L449.23,186.14 L449.53,186.78 L449.83,187.40 L450.15,188.03 L450.48,188.65 L450.81,189.26 L451.16,189.87 L451.51,190.48 L451.86,191.09 L452.22,191.69 L452.58,192.29 L452.94,192.89 L453.31,193.49 L453.68,194.08 L454.04,194.68 L454.41,195.28 L454.78,195.88 L455.14,196.47 L455.51,197.07 L455.87,197.67 L456.24,198.27 L456.61,198.86 L456.97,199.46 L457.34,200.06 L457.71,200.65 L458.08,201.25 L458.45,201.84 L458.82,202.44 L459.20,203.03 L459.57,203.63 L459.94,204.22 L460.32,204.81 L460.69,205.41 L461.07,206.00 L461.44,206.59 L461.82,207.18 L462.20,207.77 L462.59,208.35 L462.97,208.94 L463.36,209.52 L463.75,210.10 L464.15,210.68 L464.55,211.26 L464.94,211.83 L465.34,212.41 L465.73,212.99 L466.12,213.58 L466.50,214.16 L466.88,214.76 L467.25,215.35 L467.61,215.95 L467.97,216.55 L468.32,217.16 L468.66,217.77 L469.00,218.39 L469.33,219.00 L469.66,219.62 L469.99,220.24 L470.32,220.86 L470.64,221.48 L470.96,222.11 L471.28,222.73 L471.59,223.36 L471.91,223.98 L472.22,224.61 L472.54,225.24 L472.85,225.86 L473.16,226.49 L473.47,227.12 L473.78,227.75 L474.08,228.38 L474.39,229.01 L474.70,229.64 L475.00,230.27 L475.31,230.90 L475.61,231.53 L475.91,232.17 L476.22,232.80 L476.52,233.43 L476.81,234.07 L477.11,234.70 L477.41,235.34 L477.70,235.97 L477.99,236.61 L478.28,237.25 L478.57,237.89 L478.86,238.53 L479.15,239.17 L479.43,239.81 L479.72,240.45 L480.00,241.09 L480.28,241.73 L480.57,242.37 L480.85,243.01 L481.13,243.66 L481.40,244.30 L481.68,244.94 L481.95,245.59 L482.22,246.24 L482.49,246.88 L482.76,247.53 L483.03,248.18 L483.29,248.83 L483.55,249.48 L483.82,250.13 L484.08,250.78 L484.34,251.43 L484.60,252.08 L484.86,252.73 L485.13,253.38 L485.40,254.03 L485.66,254.67 L485.94,255.32 L486.21,255.97 L486.49,256.61 L486.77,257.25 L487.05,257.89 L487.34,258.53 L487.64,259.17 L487.94,259.80 L488.24,260.43 L488.55,261.06 L488.87,261.69 L489.19,262.31 L489.51,262.93 L489.84,263.55 L490.17,264.17 L490.50,264.78 L490.84,265.40 L491.18,266.01 L491.52,266.62 L491.87,267.23 L492.22,267.84 L492.57,268.45 L492.92,269.05 L493.28,269.66 L493.63,270.26 L493.99,270.86 L494.35,271.47 L494.71,272.07 L495.07,272.67 L495.44,273.27 L495.80,273.86 L496.17,274.46 L496.54,275.06 L496.91,275.65 L497.29,276.24 L497.67,276.83 L498.05,277.42 L498.44,278.00 L498.84,278.58 L499.23,279.16 L499.63,279.73 L500.03,280.31 L500.43,280.89 L500.83,281.46 L501.22,282.04 L501.62,282.62 L502.01,283.20 L502.40,283.78 L502.79,284.36 L503.18,284.95 L503.56,285.54 L503.94,286.13 L504.32,286.72 L504.70,287.31 L505.07,287.90 L505.45,288.49 L505.83,289.08 L506.20,289.67 L506.58,290.26 L506.96,290.85 L507.34,291.44 L507.72,292.03 L508.10,292.62 L508.48,293.21 L508.87,293.79 L509.25,294.38 L509.64,294.96 L510.04,295.54 L510.43,296.12 L510.83,296.69 L511.24,297.27 L511.65,297.83 L512.06,298.40 L512.48,298.96 L512.90,299.52 L513.33,300.08 L513.76,300.63 L514.19,301.18 L514.63,301.73 L515.07,302.27 L515.52,302.81 L515.97,303.35 L516.43,303.88 L516.88,304.41 L517.35,304.94 L517.82,305.46 L518.29,305.97 L518.77,306.49 L519.25,306.99 L519.74,307.49 L520.23,307.99 L520.74,308.48 L521.24,308.96 L521.76,309.43 L522.28,309.90 L522.82,310.35 L523.36,310.80 L523.91,311.23 L524.47,311.65 L525.04,312.05 L525.61,312.45 L526.20,312.83 L526.80,313.20 L527.40,313.55 L528.01,313.90 L528.62,314.24 L529.24,314.57 L529.86,314.90 L530.48,315.23 L531.10,315.55 L531.72,315.88 L532.34,316.20 L532.96,316.53 L533.58,316.85 L534.20,317.18 L534.82,317.50 L535.44,317.83 L536.07,318.15 L536.69,318.47 L537.31,318.79 L537.94,319.10 L538.57,319.42 L539.19,319.73 L539.82,320.05 L540.45,320.36 L541.08,320.67 L541.70,320.98 L542.33,321.29 L542.96,321.60 L543.59,321.91 L544.22,322.23 L544.85,322.54 L545.47,322.85 L546.10,323.16 L546.73,323.47 L547.35,323.79 L547.98,324.11 L548.60,324.43 L549.23,324.75 L549.85,325.07 L550.47,325.40 L551.09,325.72 L551.71,326.05 L552.33,326.37 L552.96,326.69 L553.58,327.01 L554.21,327.32 L554.84,327.62 L555.48,327.91 L556.12,328.19 L556.76,328.46 L557.41,328.72 L558.07,328.96 L558.73,329.18 L559.40,329.39 L560.07,329.58 L560.75,329.74 L561.43,329.89 L562.12,330.02 L562.81,330.14 L563.50,330.23 L564.20,330.31 L564.90,330.38 L565.59,330.44 L566.29,330.48 L566.99,330.52 L567.69,330.54 L568.39,330.55 L569.09,330.55 L569.79,330.55 L570.49,330.54 L571.19,330.53 L571.90,330.52 L572.60,330.51 L573.30,330.49 L574.00,330.49 L574.70,330.48 L575.40,330.48 L576.10,330.48 L576.80,330.49 L577.50,330.51 L578.20,330.53 L578.90,330.56 L579.60,330.59 L580.30,330.62 L581.00,330.66 L581.70,330.71 L582.40,330.76 L583.10,330.80 L583.80,330.85 L584.50,330.91 L585.20,330.96 L585.90,331.01 L586.60,331.06 L587.29,331.12 L587.99,331.17 L588.69,331.22 L589.39,331.27 L590.09,331.32 L590.79,331.37 L591.49,331.42 L592.19,331.46 L592.89,331.51 L593.59,331.55 L594.29,331.59 L594.99,331.62 L595.69,331.66 L596.39,331.69 L597.09,331.73 L597.79,331.76 L598.49,331.79 L599.19,331.82 L599.89,331.85 L600.59,331.88 L601.29,331.90 L601.99,331.93 L602.69,331.96 L603.39,331.99 L604.09,332.01 L604.79,332.04 L605.49,332.07 L606.19,332.09 L606.89,332.12 L607.59,332.14 L608.30,332.17 L609.00,332.20 L609.70,332.22 L610.40,332.25 L611.10,332.27 L611.80,332.30 L612.50,332.32 L613.20,332.35 L613.90,332.37 L614.60,332.40" fill="none" stroke="#AFAFAF" stroke-width="3.6" stroke-linejoin="round" stroke-linecap="round" clip-path="url(#ca)"/>
<path d="M66.20,348.60 L66.89,348.49 L67.58,348.38 L68.28,348.27 L68.97,348.16 L69.66,348.05 L70.35,347.95 L71.05,347.84 L71.74,347.73 L72.43,347.62 L73.12,347.51 L73.82,347.40 L74.51,347.29 L75.20,347.18 L75.89,347.07 L76.58,346.95 L77.27,346.84 L77.97,346.72 L78.66,346.61 L79.35,346.48 L80.04,346.36 L80.73,346.24 L81.41,346.11 L82.10,345.97 L82.79,345.83 L83.47,345.69 L84.16,345.54 L84.84,345.37 L85.52,345.20 L86.19,345.02 L86.86,344.82 L87.53,344.61 L88.20,344.39 L88.86,344.17 L89.52,343.93 L90.18,343.69 L90.84,343.45 L91.49,343.21 L92.15,342.97 L92.82,342.74 L93.48,342.52 L94.15,342.32 L94.82,342.12 L95.49,341.93 L96.17,341.75 L96.85,341.57 L97.53,341.41 L98.21,341.25 L98.90,341.09 L99.58,340.95 L100.27,340.81 L100.95,340.67 L101.64,340.54 L102.33,340.42 L103.02,340.31 L103.72,340.21 L104.41,340.12 L105.11,340.04 L105.80,339.98 L106.50,339.93 L107.20,339.89 L107.90,339.87 L108.60,339.86 L109.30,339.87 L110.00,339.88 L110.70,339.90 L111.40,339.93 L112.10,339.96 L112.80,339.99 L113.50,340.02 L114.20,340.05 L114.90,340.08 L115.60,340.11 L116.30,340.15 L117.00,340.18 L117.70,340.22 L118.40,340.25 L119.10,340.29 L119.80,340.33 L120.50,340.37 L121.20,340.41 L121.90,340.44 L122.60,340.48 L123.30,340.52 L124.00,340.56 L124.70,340.60 L125.40,340.64 L126.10,340.68 L126.80,340.73 L127.50,340.77 L128.20,340.81 L128.90,340.85 L129.59,340.89 L130.29,340.93 L130.99,340.97 L131.69,341.02 L132.39,341.06 L133.09,341.10 L133.79,341.15 L134.49,341.20 L135.19,341.24 L135.89,341.29 L136.59,341.34 L137.29,341.39 L137.99,341.44 L138.69,341.49 L139.38,341.54 L140.08,341.59 L140.78,341.63 L141.48,341.67 L142.18,341.72 L142.88,341.76 L143.58,341.79 L144.28,341.83 L144.98,341.86 L145.68,341.89 L146.38,341.91 L147.08,341.94 L147.78,341.96 L148.48,341.98 L149.18,342.00 L149.89,342.02 L150.59,342.04 L151.29,342.05 L151.99,342.06 L152.69,342.08 L153.39,342.08 L154.09,342.09 L154.79,342.10 L155.49,342.10 L156.19,342.10 L156.89,342.11 L157.59,342.11 L158.29,342.11 L159.00,342.11 L159.70,342.11 L160.40,342.10 L161.10,342.10 L161.80,342.10 L162.50,342.10 L163.20,342.09 L163.90,342.09 L164.60,342.09 L165.30,342.08 L166.00,342.08 L166.70,342.07 L167.41,342.07 L168.11,342.06 L168.81,342.05 L169.51,342.05 L170.21,342.04 L170.91,342.03 L171.61,342.03 L172.31,342.02 L173.01,342.01 L173.71,342.00 L174.41,342.00 L175.11,341.99 L175.82,341.98 L176.52,341.97 L177.22,341.97 L177.92,341.96 L178.62,341.95 L179.32,341.94 L180.02,341.93 L180.72,341.92 L181.42,341.92 L182.12,341.91 L182.82,341.90 L183.52,341.89 L184.22,341.88 L184.93,341.87 L185.63,341.87 L186.33,341.86 L187.03,341.85 L187.73,341.84 L188.43,341.83 L189.13,341.82 L189.83,341.81 L190.53,341.81 L191.23,341.80 L191.93,341.79 L192.63,341.78 L193.34,341.77 L194.04,341.77 L194.74,341.76 L195.44,341.75 L196.14,341.74 L196.84,341.73 L197.54,341.73 L198.24,341.72 L198.94,341.71 L199.64,341.70 L200.34,341.70 L201.04,341.69 L201.74,341.68 L202.45,341.68 L203.15,341.67 L203.85,341.66 L204.55,341.65 L205.25,341.65 L205.95,341.64 L206.65,341.63 L207.35,341.63 L208.05,341.62 L208.75,341.61 L209.45,341.61 L210.15,341.60 L210.86,341.59 L211.56,341.59 L212.26,341.58 L212.96,341.57 L213.66,341.57 L214.36,341.56 L215.06,341.55 L215.76,341.55 L216.46,341.54 L217.16,341.53 L217.86,341.53 L218.56,341.52 L219.27,341.51 L219.97,341.51 L220.67,341.50 L221.37,341.49 L222.07,341.49 L222.77,341.48 L223.47,341.47 L224.17,341.46 L224.87,341.46 L225.57,341.45 L226.27,341.44 L226.97,341.44 L227.68,341.43 L228.38,341.42 L229.08,341.42 L229.78,341.41 L230.48,341.40 L231.18,341.39 L231.88,341.39 L232.58,341.38 L233.28,341.37 L233.98,341.36 L234.68,341.36 L235.38,341.35 L236.08,341.34 L236.79,341.33 L237.49,341.33 L238.19,341.32 L238.89,341.31 L239.59,341.30 L240.29,341.30 L240.99,341.29 L241.69,341.28 L242.39,341.27 L243.09,341.27 L243.79,341.26 L244.49,341.25 L245.20,341.25 L245.90,341.24 L246.60,341.23 L247.30,341.22 L248.00,341.22 L248.70,341.21 L249.40,341.20 L250.10,341.19 L250.80,341.19 L251.50,341.18 L252.20,341.17 L252.90,341.17 L253.61,341.16 L254.31,341.15 L255.01,341.14 L255.71,341.14 L256.41,341.13 L257.11,341.12 L257.81,341.12 L258.51,341.11 L259.21,341.10 L259.91,341.09 L260.61,341.09 L261.31,341.08 L262.01,341.07 L262.72,341.07 L263.42,341.06 L264.12,341.05 L264.82,341.04 L265.52,341.04 L266.22,341.03 L266.92,341.02 L267.62,341.02 L268.32,341.01 L269.02,341.00 L269.72,340.99 L270.42,340.99 L271.13,340.98 L271.83,340.97 L272.53,340.97 L273.23,340.96 L273.93,340.95 L274.63,340.94 L275.33,340.94 L276.03,340.93 L276.73,340.92 L277.43,340.92 L278.13,340.91 L278.83,340.90 L279.54,340.89 L280.24,340.89 L280.94,340.88 L281.64,340.87 L282.34,340.86 L283.04,340.86 L283.74,340.85 L284.44,340.84 L285.14,340.84 L285.84,340.83 L286.54,340.82 L287.24,340.81 L287.95,340.81 L288.65,340.80 L289.35,340.79 L290.05,340.78 L290.75,340.78 L291.45,340.77 L292.15,340.76 L292.85,340.75 L293.55,340.75 L294.25,340.74 L294.95,340.73 L295.65,340.72 L296.35,340.72 L297.06,340.71 L297.76,340.70 L298.46,340.69 L299.16,340.68 L299.86,340.68 L300.56,340.67 L301.26,340.66 L301.96,340.65 L302.66,340.65 L303.36,340.64 L304.06,340.63 L304.76,340.62 L305.47,340.61 L306.17,340.61 L306.87,340.60 L307.57,340.59 L308.27,340.58 L308.97,340.57 L309.67,340.56 L310.37,340.56 L311.07,340.55 L311.77,340.54 L312.47,340.53 L313.17,340.52 L313.87,340.51 L314.58,340.51 L315.28,340.50 L315.98,340.49 L316.68,340.48 L317.38,340.47 L318.08,340.46 L318.78,340.45 L319.48,340.44 L320.18,340.44 L320.88,340.43 L321.58,340.42 L322.28,340.41 L322.99,340.40 L323.69,340.39 L324.39,340.38 L325.09,340.37 L325.79,340.36 L326.49,340.35 L327.19,340.34 L327.89,340.33 L328.59,340.32 L329.29,340.31 L329.99,340.30 L330.69,340.29 L331.39,340.28 L332.10,340.27 L332.80,340.26 L333.50,340.24 L334.20,340.23 L334.90,340.22 L335.60,340.21 L336.30,340.20 L337.00,340.18 L337.70,340.17 L338.40,340.16 L339.10,340.15 L339.80,340.13 L340.50,340.12 L341.20,340.11 L341.91,340.09 L342.61,340.08 L343.31,340.06 L344.01,340.05 L344.71,340.03 L345.41,340.02 L346.11,340.00 L346.81,339.99 L347.51,339.97 L348.21,339.96 L348.91,339.94 L349.61,339.93 L350.31,339.91 L351.01,339.89 L351.72,339.88 L352.42,339.86 L353.12,339.84 L353.82,339.83 L354.52,339.81 L355.22,339.79 L355.92,339.77 L356.62,339.76 L357.32,339.74 L358.02,339.72 L358.72,339.70 L359.42,339.69 L360.12,339.67 L360.82,339.65 L361.52,339.63 L362.22,339.61 L362.93,339.59 L363.63,339.58 L364.33,339.56 L365.03,339.54 L365.73,339.52 L366.43,339.50 L367.13,339.49 L367.83,339.47 L368.53,339.45 L369.23,339.43 L369.93,339.42 L370.63,339.40 L371.33,339.38 L372.03,339.37 L372.73,339.35 L373.43,339.33 L374.14,339.32 L374.84,339.30 L375.54,339.29 L376.24,339.27 L376.94,339.26 L377.64,339.25 L378.34,339.23 L379.04,339.22 L379.74,339.21 L380.44,339.19 L381.14,339.18 L381.84,339.17 L382.54,339.16 L383.24,339.15 L383.95,339.14 L384.65,339.13 L385.35,339.11 L386.05,339.10 L386.75,339.09 L387.45,339.08 L388.15,339.07 L388.85,339.06 L389.55,339.06 L390.25,339.05 L390.95,339.04 L391.65,339.03 L392.35,339.02 L393.06,339.01 L393.76,339.00 L394.46,339.00 L395.16,338.99 L395.86,338.98 L396.56,338.97 L397.26,338.97 L397.96,338.96 L398.66,338.95 L399.36,338.95 L400.06,338.94 L400.76,338.94 L401.47,338.93 L402.17,338.93 L402.87,338.92 L403.57,338.92 L404.27,338.92 L404.97,338.91 L405.67,338.91 L406.37,338.91 L407.07,338.90 L407.77,338.90 L408.47,338.90 L409.17,338.90 L409.88,338.90 L410.58,338.90 L411.28,338.90 L411.98,338.91 L412.68,338.91 L413.38,338.92 L414.08,338.93 L414.78,338.94 L415.48,338.95 L416.18,338.97 L416.88,338.99 L417.58,339.01 L418.28,339.04 L418.98,339.06 L419.68,339.09 L420.38,339.12 L421.08,339.16 L421.78,339.19 L422.48,339.21 L423.19,339.24 L423.89,339.26 L424.59,339.27 L425.29,339.27 L425.99,339.27 L426.69,339.26 L427.39,339.24 L428.09,339.21 L428.78,339.16 L429.48,339.09 L430.17,339.01 L430.86,338.91 L431.55,338.79 L432.24,338.66 L432.92,338.50 L433.60,338.33 L434.27,338.14 L434.94,337.94 L435.61,337.73 L436.27,337.51 L436.94,337.29 L437.60,337.06 L438.26,336.83 L438.92,336.59 L439.58,336.35 L440.24,336.11 L440.90,335.87 L441.56,335.63 L442.21,335.39 L442.87,335.14 L443.53,334.89 L444.18,334.65 L444.84,334.40 L445.49,334.15 L446.15,333.91 L446.81,333.66 L447.46,333.41 L448.12,333.17 L448.77,332.92 L449.43,332.68 L450.09,332.44 L450.75,332.20 L451.41,331.96 L452.07,331.72 L452.73,331.49 L453.39,331.26 L454.05,331.04 L454.72,330.81 L455.38,330.59 L456.04,330.36 L456.71,330.14 L457.37,329.91 L458.03,329.68 L458.70,329.45 L459.36,329.22 L460.01,328.98 L460.67,328.73 L461.33,328.48 L461.98,328.22 L462.63,327.96 L463.27,327.69 L463.91,327.40 L464.55,327.11 L465.18,326.81 L465.81,326.50 L466.43,326.18 L467.05,325.85 L467.66,325.52 L468.27,325.17 L468.88,324.82 L469.48,324.46 L470.08,324.10 L470.67,323.72 L471.26,323.34 L471.84,322.95 L472.42,322.56 L472.99,322.15 L473.56,321.75 L474.12,321.33 L474.68,320.91 L475.24,320.48 L475.79,320.05 L476.33,319.61 L476.87,319.16 L477.40,318.70 L477.93,318.24 L478.45,317.77 L478.96,317.30 L479.47,316.81 L479.98,316.33 L480.48,315.84 L480.97,315.34 L481.46,314.84 L481.95,314.34 L482.43,313.83 L482.92,313.32 L483.40,312.81 L483.87,312.30 L484.35,311.79 L484.83,311.27 L485.30,310.76 L485.78,310.24 L486.25,309.73 L486.72,309.21 L487.19,308.68 L487.65,308.16 L488.10,307.62 L488.54,307.08 L488.97,306.53 L489.39,305.97 L489.80,305.40 L490.21,304.83 L490.61,304.26 L491.01,303.68 L491.41,303.10 L491.80,302.53 L492.20,301.95 L492.59,301.37 L492.99,300.79 L493.38,300.21 L493.77,299.63 L494.16,299.04 L494.55,298.46 L494.94,297.88 L495.33,297.30 L495.72,296.71 L496.10,296.13 L496.49,295.54 L496.87,294.95 L497.25,294.37 L497.64,293.78 L498.02,293.19 L498.39,292.60 L498.77,292.01 L499.15,291.42 L499.52,290.82 L499.89,290.23 L500.26,289.63 L500.62,289.03 L500.98,288.43 L501.34,287.83 L501.70,287.23 L502.05,286.62 L502.40,286.01 L502.74,285.40 L503.08,284.79 L503.42,284.18 L503.75,283.56 L504.08,282.94 L504.40,282.32 L504.73,281.70 L505.04,281.07 L505.36,280.45 L505.67,279.82 L505.97,279.19 L506.28,278.56 L506.58,277.92 L506.88,277.29 L507.17,276.65 L507.46,276.02 L507.75,275.38 L508.04,274.74 L508.33,274.10 L508.61,273.46 L508.89,272.82 L509.17,272.17 L509.45,271.53 L509.72,270.89 L510.00,270.24 L510.27,269.60 L510.54,268.95 L510.81,268.30 L511.08,267.65 L511.34,267.00 L511.60,266.35 L511.86,265.70 L512.11,265.05 L512.36,264.39 L512.61,263.74 L512.86,263.08 L513.10,262.43 L513.34,261.77 L513.58,261.11 L513.82,260.45 L514.06,259.79 L514.29,259.13 L514.52,258.47 L514.76,257.81 L514.99,257.15 L515.22,256.49 L515.45,255.82 L515.69,255.16 L515.92,254.50 L516.15,253.84 L516.38,253.18 L516.62,252.52 L516.85,251.86 L517.09,251.20 L517.33,250.54 L517.57,249.88 L517.80,249.22 L518.04,248.56 L518.28,247.90 L518.51,247.24 L518.75,246.58 L518.98,245.92 L519.21,245.26 L519.44,244.60 L519.67,243.93 L519.90,243.27 L520.12,242.61 L520.35,241.94 L520.57,241.28 L520.79,240.61 L521.01,239.95 L521.22,239.28 L521.43,238.61 L521.64,237.94 L521.85,237.27 L522.05,236.60 L522.26,235.93 L522.46,235.26 L522.66,234.59 L522.86,233.92 L523.06,233.25 L523.26,232.58 L523.46,231.90 L523.66,231.23 L523.86,230.56 L524.07,229.89 L524.27,229.22 L524.48,228.55 L524.69,227.88 L524.90,227.21 L525.11,226.55 L525.32,225.88 L525.54,225.21 L525.76,224.55 L525.99,223.88 L526.22,223.22 L526.45,222.56 L526.69,221.90 L526.93,221.24 L527.18,220.59 L527.43,219.94 L527.69,219.28 L527.95,218.63 L528.22,217.99 L528.49,217.34 L528.76,216.70 L529.04,216.05 L529.32,215.41 L529.61,214.77 L529.89,214.13 L530.18,213.49 L530.47,212.85 L530.76,212.21 L531.05,211.58 L531.34,210.94 L531.63,210.30 L531.93,209.66 L532.22,209.03 L532.51,208.39 L532.80,207.75 L533.09,207.11 L533.37,206.47 L533.66,205.83 L533.94,205.19 L534.22,204.55 L534.50,203.90 L534.77,203.26 L535.04,202.61 L535.31,201.97 L535.57,201.32 L535.84,200.67 L536.10,200.02 L536.36,199.37 L536.62,198.72 L536.88,198.07 L537.14,197.41 L537.40,196.76 L537.65,196.11 L537.90,195.46 L538.15,194.80 L538.40,194.15 L538.65,193.49 L538.89,192.83 L539.13,192.17 L539.37,191.51 L539.60,190.85 L539.83,190.19 L540.06,189.53 L540.28,188.87 L540.51,188.20 L540.72,187.53 L540.94,186.87 L541.14,186.20 L541.35,185.53 L541.55,184.86 L541.75,184.18 L541.94,183.51 L542.13,182.83 L542.31,182.16 L542.49,181.48 L542.67,180.80 L542.85,180.13 L543.02,179.45 L543.19,178.77 L543.35,178.08 L543.52,177.40 L543.68,176.72 L543.84,176.04 L543.99,175.36 L544.15,174.67 L544.30,173.99 L544.46,173.30 L544.61,172.62 L544.76,171.94 L544.91,171.25 L545.06,170.57 L545.20,169.88 L545.34,169.19 L545.48,168.51 L545.62,167.82 L545.76,167.13 L545.89,166.44 L546.02,165.76 L546.15,165.07 L546.27,164.38 L546.40,163.69 L546.52,163.00 L546.65,162.31 L546.77,161.62 L546.89,160.93 L547.01,160.24 L547.14,159.55 L547.26,158.86 L547.38,158.17 L547.51,157.48 L547.63,156.79 L547.76,156.10 L547.89,155.41 L548.02,154.72 L548.16,154.04 L548.29,153.35 L548.43,152.66 L548.56,151.97 L548.70,151.28 L548.83,150.60 L548.97,149.91 L549.11,149.22 L549.25,148.54 L549.39,147.85 L549.53,147.16 L549.67,146.48 L549.82,145.79 L549.97,145.11 L550.12,144.42 L550.27,143.74 L550.43,143.05 L550.59,142.37 L550.75,141.69 L550.91,141.01 L551.08,140.33 L551.25,139.65 L551.42,138.97 L551.59,138.29 L551.77,137.61 L551.95,136.93 L552.13,136.26 L552.31,135.58 L552.49,134.90 L552.68,134.23 L552.87,133.55 L553.06,132.88 L553.26,132.21 L553.45,131.53 L553.66,130.86 L553.86,130.19 L554.08,129.53 L554.29,128.86 L554.52,128.20 L554.75,127.53 L554.98,126.87 L555.22,126.21 L555.46,125.56 L555.71,124.90 L555.97,124.25 L556.23,123.60 L556.49,122.95 L556.77,122.31 L557.05,121.67 L557.34,121.03 L557.64,120.40 L557.96,119.77 L558.29,119.16 L558.64,118.55 L559.00,117.96 L559.40,117.39 L559.81,116.83 L560.26,116.30 L560.73,115.80 L561.23,115.33 L561.76,114.88 L562.31,114.48 L562.89,114.10 L563.49,113.75 L564.11,113.43 L564.74,113.14 L565.38,112.86 L566.03,112.60 L566.69,112.36 L567.35,112.13 L568.01,111.92 L568.69,111.73 L569.36,111.56 L570.04,111.40 L570.73,111.24 L571.41,111.09 L572.09,110.93 L572.77,110.76 L573.44,110.58 L574.10,110.37 L574.76,110.13 L575.40,109.87 L576.04,109.59 L576.67,109.28 L577.28,108.95 L577.89,108.61 L578.49,108.25 L579.08,107.88 L579.67,107.50 L580.26,107.12 L580.84,106.73 L581.43,106.34 L582.01,105.96 L582.59,105.57 L583.18,105.18 L583.76,104.79 L584.34,104.39 L584.92,104.00 L585.50,103.60 L586.07,103.20 L586.65,102.81 L587.22,102.40 L587.80,102.00 L588.37,101.60 L588.95,101.20 L589.53,100.81 L590.10,100.41 L590.68,100.02 L591.27,99.63 L591.85,99.24 L592.44,98.86 L593.03,98.49 L593.63,98.12 L594.23,97.77 L594.84,97.42 L595.45,97.08 L596.07,96.76 L596.70,96.44 L597.33,96.14 L597.97,95.85 L598.61,95.57 L599.26,95.30 L599.91,95.04 L600.56,94.79 L601.22,94.55 L601.88,94.31 L602.54,94.08 L603.20,93.85 L603.86,93.62 L604.53,93.40 L605.19,93.18 L605.86,92.96 L606.52,92.75 L607.19,92.53 L607.86,92.33 L608.53,92.12 L609.20,91.92 L609.88,91.73 L610.55,91.53 L611.22,91.34 L611.90,91.15 L612.57,90.96 L613.25,90.78 L613.92,90.59 L614.60,90.40" fill="none" stroke="#5B9BD5" stroke-width="3.6" stroke-linejoin="round" stroke-linecap="round" clip-path="url(#ca)"/>
<rect x="615" y="351" width="6" height="1" fill="#B8B8B8"/>
<rect x="615" y="284" width="6" height="1" fill="#B8B8B8"/>
<rect x="615" y="217" width="6" height="1" fill="#B8B8B8"/>
<rect x="615" y="150" width="6" height="1" fill="#B8B8B8"/>
<rect x="615" y="83" width="6" height="1" fill="#B8B8B8"/>
<rect x="615" y="17" width="6" height="1" fill="#B8B8B8"/>
<text x="51.5" y="358.6" text-anchor="end" font-family='"Liberation Serif", serif' font-size="17.5" fill="#000">0</text>
<text x="51.5" y="316.9" text-anchor="end" font-family='"Liberation Serif", serif' font-size="17.5" fill="#000">10</text>
<text x="51.5" y="275.1" text-anchor="end" font-family='"Liberation Serif", serif' font-size="17.5" fill="#000">20</text>
<text x="51.5" y="233.3" text-anchor="end" font-family='"Liberation Serif", serif' font-size="17.5" fill="#000">30</text>
<text x="51.5" y="191.6" text-anchor="end" font-family='"Liberation Serif", serif' font-size="17.5" fill="#000">40</text>
<text x="51.5" y="149.8" text-anchor="end" font-family='"Liberation Serif", serif' font-size="17.5" fill="#000">50</text>
<text x="51.5" y="108.1" text-anchor="end" font-family='"Liberation Serif", serif' font-size="17.5" fill="#000">60</text>
<text x="51.5" y="66.3" text-anchor="end" font-family='"Liberation Serif", serif' font-size="17.5" fill="#000">70</text>
<text x="51.5" y="24.6" text-anchor="end" font-family='"Liberation Serif", serif' font-size="17.5" fill="#000">80</text>
<text x="631.5" y="360.0" font-family='"Liberation Serif", serif' font-size="19.5" fill="#595959">1</text>
<text x="631.5" y="293.2" font-family='"Liberation Serif", serif' font-size="19.5" fill="#595959">6</text>
<text x="631.5" y="226.4" font-family='"Liberation Serif", serif' font-size="19.5" fill="#595959">11</text>
<text x="631.5" y="159.6" font-family='"Liberation Serif", serif' font-size="19.5" fill="#595959">16</text>
<text x="631.5" y="92.8" font-family='"Liberation Serif", serif' font-size="19.5" fill="#595959">21</text>
<text x="631.5" y="26.0" font-family='"Liberation Serif", serif' font-size="19.5" fill="#595959">26</text>
<text x="66.5" y="376.4" text-anchor="middle" font-family='"Liberation Serif", serif' font-size="17.5" fill="#000">0</text>
<text x="112.2" y="376.4" text-anchor="middle" font-family='"Liberation Serif", serif' font-size="17.5" fill="#000">0.5</text>
<text x="157.8" y="376.4" text-anchor="middle" font-family='"Liberation Serif", serif' font-size="17.5" fill="#000">1</text>
<text x="203.5" y="376.4" text-anchor="middle" font-family='"Liberation Serif", serif' font-size="17.5" fill="#000">1.5</text>
<text x="249.2" y="376.4" text-anchor="middle" font-family='"Liberation Serif", serif' font-size="17.5" fill="#000">2</text>
<text x="294.8" y="376.4" text-anchor="middle" font-family='"Liberation Serif", serif' font-size="17.5" fill="#000">2.5</text>
<text x="340.5" y="376.4" text-anchor="middle" font-family='"Liberation Serif", serif' font-size="17.5" fill="#000">3</text>
<text x="386.2" y="376.4" text-anchor="middle" font-family='"Liberation Serif", serif' font-size="17.5" fill="#000">3.5</text>
<text x="431.8" y="376.4" text-anchor="middle" font-family='"Liberation Serif", serif' font-size="17.5" fill="#000">4</text>
<text x="477.5" y="376.4" text-anchor="middle" font-family='"Liberation Serif", serif' font-size="17.5" fill="#000">4.5</text>
<text x="523.2" y="376.4" text-anchor="middle" font-family='"Liberation Serif", serif' font-size="17.5" fill="#000">5</text>
<text x="568.8" y="376.4" text-anchor="middle" font-family='"Liberation Serif", serif' font-size="17.5" fill="#000">5.5</text>
<text x="614.5" y="376.4" text-anchor="middle" font-family='"Liberation Serif", serif' font-size="17.5" fill="#000">6</text>
<text x="341.0" y="398.4" text-anchor="middle" font-family='"Liberation Serif", serif' font-size="19.2" fill="#000">injection volume (PV)</text>
<text transform="translate(23.5,184.0) rotate(-90)" text-anchor="middle" font-family='"Liberation Serif", serif' font-size="19" fill="#000">Rf (vole%), Permeability (md)</text>
<text transform="translate(673,184.2) rotate(-90)" text-anchor="middle" font-family='"Liberation Serif", serif' font-size="19" fill="#000">differential pressure (KPa)</text>
<text transform="translate(81.4,49.9) scale(0.96,1)" font-family='"Liberation Sans", sans-serif' font-weight="bold" font-size="23.6" fill="#000">A</text>
<line x1="271.5" y1="242.5" x2="306.5" y2="242.5" stroke="#ED7D31" stroke-width="3.1" stroke-linecap="round"/>
<text x="312" y="246.8" font-family='"Liberation Serif", serif' font-size="17" fill="#000">RF</text>
<line x1="271.5" y1="272.5" x2="306.5" y2="272.5" stroke="#AFAFAF" stroke-width="3.1" stroke-linecap="round"/>
<text x="312" y="276.8" font-family='"Liberation Serif", serif' font-size="17" fill="#000">Permeability</text>
<line x1="271.5" y1="303.1" x2="306.5" y2="303.1" stroke="#5B9BD5" stroke-width="3.1" stroke-linecap="round"/>
<text x="312" y="307.4" font-family='"Liberation Serif", serif' font-size="17" fill="#000">Pressure</text>
<clipPath id="cb"><rect x="66" y="427" width="549" height="336"/></clipPath>
<rect x="66" y="427" width="549" height="336" fill="#DAE3F3"/>
<rect x="66" y="426" width="549" height="1" fill="#FAFAFA"/>
<rect x="66" y="427" width="549" height="2" fill="#000"/>
<rect x="66" y="761" width="549" height="1" fill="#000"/>
<rect x="66" y="762" width="549" height="1" fill="#333"/>
<rect x="111.37" y="429" width="1.6" height="332" fill="#DCDDDE"/>
<rect x="111.37" y="427" width="1.6" height="1" fill="#808080"/>
<rect x="111.37" y="428" width="1.6" height="1" fill="#C8C8C8"/>
<rect x="111.37" y="761" width="1.6" height="1" fill="#5A5A5A"/>
<rect x="111.37" y="762" width="1.6" height="1" fill="#444"/>
<rect x="157.03" y="429" width="1.6" height="332" fill="#DCDDDE"/>
<rect x="157.03" y="427" width="1.6" height="1" fill="#808080"/>
<rect x="157.03" y="428" width="1.6" height="1" fill="#C8C8C8"/>
<rect x="157.03" y="761" width="1.6" height="1" fill="#5A5A5A"/>
<rect x="157.03" y="762" width="1.6" height="1" fill="#444"/>
<rect x="202.70" y="429" width="1.6" height="332" fill="#DCDDDE"/>
<rect x="202.70" y="427" width="1.6" height="1" fill="#808080"/>
<rect x="202.70" y="428" width="1.6" height="1" fill="#C8C8C8"/>
<rect x="202.70" y="761" width="1.6" height="1" fill="#5A5A5A"/>
<rect x="202.70" y="762" width="1.6" height="1" fill="#444"/>
<rect x="248.37" y="429" width="1.6" height="332" fill="#DCDDDE"/>
<rect x="248.37" y="427" width="1.6" height="1" fill="#808080"/>
<rect x="248.37" y="428" width="1.6" height="1" fill="#C8C8C8"/>
<rect x="248.37" y="761" width="1.6" height="1" fill="#5A5A5A"/>
<rect x="248.37" y="762" width="1.6" height="1" fill="#444"/>
<rect x="294.03" y="429" width="1.6" height="332" fill="#DCDDDE"/>
<rect x="294.03" y="427" width="1.6" height="1" fill="#808080"/>
<rect x="294.03" y="428" width="1.6" height="1" fill="#C8C8C8"/>
<rect x="294.03" y="761" width="1.6" height="1" fill="#5A5A5A"/>
<rect x="294.03" y="762" width="1.6" height="1" fill="#444"/>
<rect x="339.70" y="429" width="1.6" height="332" fill="#DCDDDE"/>
<rect x="339.70" y="427" width="1.6" height="1" fill="#808080"/>
<rect x="339.70" y="428" width="1.6" height="1" fill="#C8C8C8"/>
<rect x="339.70" y="761" width="1.6" height="1" fill="#5A5A5A"/>
<rect x="339.70" y="762" width="1.6" height="1" fill="#444"/>
<rect x="385.37" y="429" width="1.6" height="332" fill="#DCDDDE"/>
<rect x="385.37" y="427" width="1.6" height="1" fill="#808080"/>
<rect x="385.37" y="428" width="1.6" height="1" fill="#C8C8C8"/>
<rect x="385.37" y="761" width="1.6" height="1" fill="#5A5A5A"/>
<rect x="385.37" y="762" width="1.6" height="1" fill="#444"/>
<rect x="431.03" y="429" width="1.6" height="332" fill="#DCDDDE"/>
<rect x="431.03" y="427" width="1.6" height="1" fill="#808080"/>
<rect x="431.03" y="428" width="1.6" height="1" fill="#C8C8C8"/>
<rect x="431.03" y="761" width="1.6" height="1" fill="#5A5A5A"/>
<rect x="431.03" y="762" width="1.6" height="1" fill="#444"/>
<rect x="476.70" y="429" width="1.6" height="332" fill="#DCDDDE"/>
<rect x="476.70" y="427" width="1.6" height="1" fill="#808080"/>
<rect x="476.70" y="428" width="1.6" height="1" fill="#C8C8C8"/>
<rect x="476.70" y="761" width="1.6" height="1" fill="#5A5A5A"/>
<rect x="476.70" y="762" width="1.6" height="1" fill="#444"/>
<rect x="522.37" y="429" width="1.6" height="332" fill="#DCDDDE"/>
<rect x="522.37" y="427" width="1.6" height="1" fill="#808080"/>
<rect x="522.37" y="428" width="1.6" height="1" fill="#C8C8C8"/>
<rect x="522.37" y="761" width="1.6" height="1" fill="#5A5A5A"/>
<rect x="522.37" y="762" width="1.6" height="1" fill="#444"/>
<rect x="568.03" y="429" width="1.6" height="332" fill="#DCDDDE"/>
<rect x="568.03" y="427" width="1.6" height="1" fill="#808080"/>
<rect x="568.03" y="428" width="1.6" height="1" fill="#C8C8C8"/>
<rect x="568.03" y="761" width="1.6" height="1" fill="#5A5A5A"/>
<rect x="568.03" y="762" width="1.6" height="1" fill="#444"/>
<rect x="66" y="427" width="1" height="336" fill="#A9A9A9"/>
<rect x="614" y="427" width="1" height="336" fill="#A9A9A9"/>
<path d="M66.50,759.00 L66.69,758.33 L66.88,757.65 L67.07,756.98 L67.27,756.30 L67.46,755.63 L67.65,754.96 L67.84,754.28 L68.04,753.61 L68.23,752.93 L68.42,752.26 L68.61,751.58 L68.80,750.91 L68.99,750.23 L69.18,749.56 L69.36,748.88 L69.55,748.21 L69.73,747.53 L69.92,746.86 L70.10,746.18 L70.28,745.50 L70.46,744.82 L70.63,744.14 L70.81,743.47 L70.98,742.79 L71.15,742.11 L71.32,741.43 L71.49,740.75 L71.66,740.07 L71.83,739.39 L71.99,738.71 L72.16,738.02 L72.32,737.34 L72.48,736.66 L72.64,735.98 L72.80,735.29 L72.95,734.61 L73.11,733.93 L73.27,733.24 L73.42,732.56 L73.58,731.88 L73.73,731.19 L73.88,730.51 L74.04,729.83 L74.19,729.14 L74.34,728.46 L74.49,727.77 L74.65,727.09 L74.80,726.40 L74.95,725.72 L75.10,725.04 L75.25,724.35 L75.40,723.67 L75.55,722.98 L75.70,722.30 L75.85,721.61 L76.00,720.93 L76.15,720.24 L76.30,719.56 L76.45,718.87 L76.60,718.19 L76.75,717.50 L76.90,716.82 L77.04,716.13 L77.19,715.45 L77.34,714.76 L77.49,714.08 L77.64,713.39 L77.79,712.71 L77.94,712.02 L78.09,711.34 L78.24,710.65 L78.39,709.97 L78.53,709.29 L78.68,708.60 L78.83,707.92 L78.98,707.23 L79.13,706.55 L79.28,705.86 L79.43,705.18 L79.58,704.49 L79.73,703.81 L79.89,703.12 L80.04,702.44 L80.19,701.75 L80.34,701.07 L80.49,700.39 L80.64,699.70 L80.79,699.02 L80.94,698.33 L81.09,697.65 L81.25,696.96 L81.40,696.28 L81.55,695.59 L81.70,694.91 L81.85,694.23 L82.00,693.54 L82.15,692.86 L82.30,692.17 L82.46,691.49 L82.61,690.80 L82.76,690.12 L82.91,689.44 L83.06,688.75 L83.21,688.07 L83.36,687.38 L83.51,686.70 L83.66,686.01 L83.82,685.33 L83.97,684.64 L84.12,683.96 L84.27,683.28 L84.42,682.59 L84.57,681.91 L84.72,681.22 L84.87,680.54 L85.02,679.85 L85.17,679.17 L85.33,678.48 L85.48,677.80 L85.63,677.12 L85.78,676.43 L85.93,675.75 L86.08,675.06 L86.23,674.38 L86.38,673.69 L86.53,673.01 L86.69,672.32 L86.84,671.64 L86.99,670.96 L87.14,670.27 L87.29,669.59 L87.44,668.90 L87.59,668.22 L87.74,667.53 L87.89,666.85 L88.04,666.16 L88.18,665.48 L88.33,664.79 L88.48,664.11 L88.63,663.42 L88.78,662.74 L88.92,662.05 L89.07,661.37 L89.22,660.68 L89.37,660.00 L89.52,659.31 L89.66,658.63 L89.81,657.94 L89.96,657.26 L90.11,656.57 L90.26,655.89 L90.41,655.20 L90.56,654.52 L90.71,653.83 L90.86,653.15 L91.01,652.46 L91.16,651.78 L91.31,651.10 L91.47,650.41 L91.62,649.73 L91.78,649.04 L91.93,648.36 L92.09,647.68 L92.25,646.99 L92.41,646.31 L92.57,645.63 L92.73,644.95 L92.89,644.27 L93.05,643.58 L93.22,642.90 L93.38,642.22 L93.55,641.54 L93.72,640.86 L93.89,640.18 L94.06,639.50 L94.23,638.82 L94.40,638.14 L94.57,637.46 L94.75,636.78 L94.92,636.10 L95.10,635.43 L95.28,634.75 L95.46,634.07 L95.64,633.39 L95.82,632.72 L96.00,632.04 L96.18,631.36 L96.37,630.69 L96.55,630.01 L96.74,629.33 L96.92,628.66 L97.11,627.98 L97.30,627.31 L97.49,626.63 L97.68,625.96 L97.87,625.28 L98.06,624.61 L98.25,623.93 L98.44,623.26 L98.63,622.58 L98.82,621.91 L99.00,621.23 L99.19,620.56 L99.38,619.88 L99.57,619.21 L99.75,618.53 L99.94,617.86 L100.13,617.18 L100.31,616.51 L100.50,615.83 L100.69,615.16 L100.89,614.48 L101.08,613.81 L101.28,613.14 L101.49,612.47 L101.69,611.80 L101.91,611.13 L102.13,610.47 L102.35,609.80 L102.59,609.14 L102.83,608.49 L103.09,607.84 L103.36,607.19 L103.64,606.55 L103.94,605.92 L104.26,605.30 L104.61,604.70 L104.97,604.11 L105.36,603.53 L105.78,602.97 L106.22,602.43 L106.68,601.92 L107.17,601.42 L107.67,600.93 L108.19,600.46 L108.72,600.01 L109.25,599.56 L109.80,599.12 L110.35,598.69 L110.90,598.26 L111.47,597.85 L112.04,597.44 L112.61,597.04 L113.20,596.66 L113.79,596.28 L114.38,595.90 L114.97,595.53 L115.56,595.16 L116.15,594.78 L116.74,594.40 L117.32,594.00 L117.89,593.60 L118.46,593.19 L119.01,592.77 L119.56,592.33 L120.10,591.88 L120.63,591.43 L121.16,590.97 L121.68,590.50 L122.19,590.02 L122.71,589.54 L123.21,589.06 L123.72,588.57 L124.22,588.08 L124.72,587.59 L125.22,587.10 L125.71,586.60 L126.21,586.11 L126.70,585.61 L127.19,585.11 L127.68,584.61 L128.17,584.10 L128.65,583.60 L129.13,583.09 L129.61,582.58 L130.09,582.06 L130.56,581.54 L131.03,581.03 L131.50,580.51 L131.97,579.99 L132.45,579.47 L132.92,578.96 L133.40,578.45 L133.88,577.94 L134.37,577.43 L134.85,576.92 L135.34,576.42 L135.83,575.92 L136.33,575.43 L136.83,574.95 L137.35,574.49 L137.89,574.04 L138.44,573.61 L139.01,573.21 L139.59,572.82 L140.18,572.45 L140.78,572.10 L141.39,571.76 L142.01,571.42 L142.63,571.10 L143.25,570.78 L143.88,570.46 L144.51,570.15 L145.14,569.84 L145.77,569.54 L146.40,569.24 L147.04,568.94 L147.67,568.65 L148.31,568.37 L148.96,568.08 L149.60,567.80 L150.24,567.53 L150.89,567.26 L151.54,567.00 L152.19,566.74 L152.84,566.48 L153.50,566.24 L154.16,566.00 L154.82,565.76 L155.48,565.53 L156.14,565.31 L156.81,565.10 L157.48,564.89 L158.15,564.70 L158.83,564.51 L159.51,564.33 L160.18,564.16 L160.87,563.99 L161.55,563.83 L162.23,563.68 L162.92,563.54 L163.60,563.39 L164.29,563.26 L164.98,563.12 L165.67,562.99 L166.36,562.87 L167.05,562.74 L167.74,562.62 L168.43,562.49 L169.12,562.37 L169.81,562.25 L170.50,562.13 L171.19,562.01 L171.88,561.88 L172.57,561.76 L173.25,561.63 L173.94,561.50 L174.63,561.36 L175.32,561.23 L176.01,561.08 L176.69,560.94 L177.38,560.79 L178.06,560.64 L178.74,560.48 L179.43,560.32 L180.11,560.16 L180.79,560.00 L181.47,559.83 L182.15,559.66 L182.83,559.49 L183.51,559.32 L184.19,559.15 L184.87,558.98 L185.55,558.81 L186.23,558.65 L186.91,558.48 L187.59,558.32 L188.28,558.16 L188.96,558.00 L189.64,557.85 L190.33,557.70 L191.01,557.55 L191.70,557.42 L192.39,557.28 L193.08,557.16 L193.77,557.05 L194.46,556.95 L195.16,556.86 L195.85,556.79 L196.55,556.73 L197.24,556.70 L197.94,556.68 L198.64,556.69 L199.34,556.71 L200.04,556.75 L200.73,556.81 L201.43,556.88 L202.13,556.96 L202.82,557.05 L203.52,557.14 L204.21,557.23 L204.91,557.31 L205.60,557.38 L206.30,557.44 L207.00,557.48 L207.69,557.50 L208.39,557.50 L209.09,557.47 L209.78,557.43 L210.48,557.36 L211.17,557.27 L211.86,557.17 L212.55,557.04 L213.24,556.91 L213.92,556.76 L214.61,556.60 L215.29,556.43 L215.96,556.26 L216.64,556.08 L217.32,555.89 L217.99,555.70 L218.66,555.51 L219.34,555.31 L220.01,555.12 L220.68,554.92 L221.36,554.73 L222.03,554.54 L222.71,554.34 L223.38,554.16 L224.06,553.97 L224.73,553.79 L225.41,553.61 L226.09,553.44 L226.77,553.27 L227.45,553.10 L228.13,552.93 L228.81,552.77 L229.49,552.60 L230.17,552.44 L230.86,552.27 L231.54,552.11 L232.22,551.94 L232.90,551.78 L233.58,551.62 L234.26,551.45 L234.95,551.29 L235.63,551.13 L236.31,550.96 L236.99,550.80 L237.67,550.64 L238.35,550.48 L239.04,550.32 L239.72,550.16 L240.40,550.00 L241.08,549.84 L241.77,549.68 L242.45,549.52 L243.13,549.36 L243.81,549.20 L244.50,549.04 L245.18,548.89 L245.86,548.73 L246.55,548.58 L247.23,548.42 L247.92,548.27 L248.60,548.12 L249.28,547.97 L249.97,547.82 L250.66,547.68 L251.34,547.54 L252.03,547.41 L252.72,547.28 L253.41,547.16 L254.10,547.04 L254.79,546.93 L255.48,546.82 L256.18,546.71 L256.87,546.60 L257.56,546.50 L258.26,546.39 L258.95,546.28 L259.64,546.17 L260.33,546.06 L261.02,545.93 L261.71,545.80 L262.40,545.67 L263.08,545.52 L263.76,545.37 L264.44,545.20 L265.12,545.03 L265.80,544.84 L266.47,544.64 L267.14,544.43 L267.80,544.21 L268.46,543.97 L269.11,543.72 L269.76,543.47 L270.41,543.20 L271.05,542.92 L271.69,542.63 L272.33,542.34 L272.96,542.04 L273.59,541.73 L274.22,541.42 L274.85,541.11 L275.47,540.79 L276.10,540.47 L276.72,540.15 L277.34,539.83 L277.96,539.51 L278.59,539.18 L279.21,538.86 L279.83,538.54 L280.46,538.23 L281.08,537.91 L281.71,537.60 L282.34,537.30 L282.98,537.00 L283.61,536.71 L284.25,536.42 L284.90,536.15 L285.55,535.88 L286.20,535.63 L286.86,535.39 L287.52,535.17 L288.18,534.95 L288.86,534.76 L289.53,534.58 L290.21,534.41 L290.89,534.26 L291.58,534.12 L292.27,533.99 L292.96,533.87 L293.65,533.76 L294.34,533.65 L295.04,533.55 L295.73,533.46 L296.42,533.36 L297.12,533.26 L297.81,533.16 L298.50,533.06 L299.19,532.94 L299.88,532.82 L300.57,532.68 L301.25,532.53 L301.93,532.37 L302.61,532.19 L303.28,531.99 L303.95,531.79 L304.61,531.56 L305.27,531.33 L305.93,531.09 L306.58,530.83 L307.23,530.57 L307.88,530.30 L308.52,530.02 L309.16,529.73 L309.80,529.44 L310.43,529.14 L311.06,528.84 L311.69,528.54 L312.32,528.23 L312.95,527.92 L313.58,527.61 L314.21,527.30 L314.84,526.98 L315.46,526.67 L316.09,526.36 L316.72,526.04 L317.35,525.73 L317.97,525.42 L318.60,525.12 L319.23,524.81 L319.87,524.51 L320.50,524.20 L321.13,523.90 L321.76,523.59 L322.39,523.29 L323.02,522.98 L323.65,522.67 L324.28,522.36 L324.91,522.05 L325.53,521.74 L326.16,521.42 L326.79,521.11 L327.41,520.80 L328.04,520.48 L328.67,520.17 L329.29,519.86 L329.92,519.54 L330.55,519.23 L331.18,518.93 L331.81,518.62 L332.44,518.31 L333.07,518.01 L333.71,517.71 L334.34,517.42 L334.98,517.12 L335.62,516.84 L336.26,516.55 L336.90,516.27 L337.55,516.00 L338.20,515.74 L338.85,515.48 L339.50,515.23 L340.16,515.00 L340.82,514.77 L341.49,514.55 L342.16,514.35 L342.83,514.16 L343.51,513.98 L344.19,513.82 L344.87,513.66 L345.56,513.52 L346.25,513.38 L346.93,513.24 L347.62,513.11 L348.31,512.99 L349.00,512.86 L349.69,512.73 L350.38,512.59 L351.06,512.45 L351.75,512.30 L352.43,512.14 L353.11,511.97 L353.78,511.79 L354.46,511.60 L355.13,511.40 L355.79,511.19 L356.46,510.96 L357.12,510.73 L357.77,510.48 L358.43,510.23 L359.08,509.96 L359.72,509.69 L360.37,509.42 L361.01,509.14 L361.65,508.85 L362.29,508.56 L362.92,508.27 L363.56,507.97 L364.19,507.68 L364.83,507.38 L365.46,507.08 L366.09,506.78 L366.73,506.47 L367.36,506.17 L367.99,505.87 L368.63,505.57 L369.26,505.28 L369.89,504.98 L370.53,504.69 L371.17,504.39 L371.81,504.11 L372.45,503.82 L373.09,503.54 L373.73,503.27 L374.38,503.00 L375.03,502.73 L375.68,502.48 L376.34,502.23 L376.99,501.98 L377.65,501.75 L378.32,501.53 L378.98,501.31 L379.65,501.10 L380.32,500.90 L381.00,500.71 L381.67,500.52 L382.35,500.34 L383.03,500.17 L383.71,500.00 L384.39,499.84 L385.07,499.69 L385.76,499.55 L386.45,499.42 L387.14,499.29 L387.83,499.17 L388.52,499.07 L389.21,498.97 L389.91,498.88 L390.60,498.79 L391.30,498.71 L392.00,498.64 L392.70,498.58 L393.39,498.52 L394.09,498.46 L394.79,498.41 L395.49,498.37 L396.19,498.33 L396.89,498.29 L397.59,498.25 L398.29,498.22 L398.99,498.20 L399.69,498.18 L400.39,498.17 L401.09,498.16 L401.79,498.16 L402.49,498.16 L403.19,498.17 L403.89,498.18 L404.60,498.20 L405.30,498.22 L406.00,498.24 L406.70,498.26 L407.40,498.29 L408.10,498.32 L408.80,498.35 L409.50,498.38 L410.20,498.41 L410.90,498.44 L411.60,498.48 L412.30,498.51 L413.00,498.54 L413.70,498.58 L414.40,498.61 L415.10,498.65 L415.80,498.68 L416.50,498.71 L417.20,498.74 L417.90,498.77 L418.60,498.80 L419.30,498.83 L420.00,498.85 L420.70,498.87 L421.40,498.89 L422.10,498.91 L422.80,498.92 L423.50,498.93 L424.20,498.94 L424.91,498.94 L425.61,498.94 L426.31,498.93 L427.01,498.91 L427.71,498.89 L428.41,498.86 L429.11,498.82 L429.80,498.77 L430.50,498.71 L431.20,498.63 L431.89,498.55 L432.59,498.46 L433.28,498.35 L433.97,498.23 L434.66,498.10 L435.34,497.96 L436.03,497.81 L436.71,497.65 L437.39,497.47 L438.06,497.30 L438.74,497.11 L439.41,496.92 L440.08,496.72 L440.76,496.51 L441.43,496.31 L442.10,496.10 L442.76,495.90 L443.44,495.69 L444.11,495.49 L444.78,495.29 L445.45,495.11 L446.13,494.93 L446.81,494.76 L447.49,494.61 L448.18,494.47 L448.87,494.35 L449.56,494.24 L450.25,494.16 L450.95,494.09 L451.64,494.05 L452.34,494.02 L453.04,494.01 L453.74,494.01 L454.44,494.03 L455.14,494.07 L455.84,494.11 L456.54,494.16 L457.23,494.22 L457.93,494.28 L458.63,494.35 L459.33,494.41 L460.03,494.47 L460.73,494.52 L461.42,494.56 L462.12,494.59 L462.82,494.60 L463.52,494.60 L464.22,494.57 L464.91,494.51 L465.60,494.44 L466.29,494.33 L466.98,494.20 L467.65,494.04 L468.33,493.86 L468.99,493.65 L469.65,493.41 L470.30,493.16 L470.94,492.89 L471.58,492.60 L472.21,492.29 L472.83,491.98 L473.45,491.66 L474.07,491.33 L474.69,490.99 L475.31,490.66 L475.92,490.33 L476.54,489.99 L477.16,489.67 L477.78,489.35 L478.41,489.03 L479.03,488.72 L479.66,488.41 L480.30,488.11 L480.93,487.81 L481.57,487.52 L482.20,487.23 L482.84,486.93 L483.48,486.64 L484.12,486.35 L484.75,486.06 L485.39,485.76 L486.02,485.47 L486.66,485.17 L487.30,484.88 L487.93,484.59 L488.57,484.29 L489.21,484.00 L489.84,483.71 L490.48,483.42 L491.12,483.13 L491.76,482.84 L492.40,482.55 L493.04,482.27 L493.68,481.98 L494.32,481.70 L494.96,481.42 L495.61,481.14 L496.25,480.86 L496.90,480.59 L497.54,480.32 L498.19,480.05 L498.84,479.79 L499.49,479.53 L500.14,479.28 L500.80,479.02 L501.45,478.78 L502.11,478.54 L502.77,478.30 L503.43,478.07 L504.10,477.85 L504.76,477.63 L505.43,477.42 L506.10,477.21 L506.77,477.01 L507.44,476.81 L508.12,476.62 L508.79,476.43 L509.47,476.25 L510.15,476.07 L510.82,475.89 L511.50,475.72 L512.19,475.56 L512.87,475.39 L513.55,475.23 L514.23,475.07 L514.92,474.92 L515.60,474.76 L516.28,474.61 L516.97,474.46 L517.65,474.31 L518.34,474.16 L519.02,474.01 L519.70,473.85 L520.39,473.70 L521.07,473.55 L521.76,473.39 L522.44,473.24 L523.12,473.08 L523.81,472.92 L524.49,472.76 L525.17,472.60 L525.85,472.44 L526.53,472.28 L527.22,472.12 L527.90,471.96 L528.58,471.80 L529.26,471.64 L529.95,471.49 L530.63,471.33 L531.32,471.18 L532.00,471.03 L532.69,470.88 L533.37,470.74 L534.06,470.60 L534.75,470.46 L535.43,470.33 L536.12,470.20 L536.81,470.08 L537.50,469.97 L538.20,469.86 L538.89,469.76 L539.58,469.67 L540.28,469.58 L540.98,469.51 L541.67,469.46 L542.37,469.41 L543.07,469.38 L543.77,469.37 L544.47,469.37 L545.17,469.39 L545.87,469.42 L546.57,469.46 L547.26,469.52 L547.96,469.58 L548.66,469.65 L549.36,469.72 L550.05,469.79 L550.75,469.86 L551.45,469.93 L552.15,469.98 L552.84,470.03 L553.54,470.07 L554.24,470.09 L554.94,470.10 L555.64,470.10 L556.34,470.08 L557.04,470.04 L557.74,469.98 L558.43,469.91 L559.12,469.82 L559.81,469.71 L560.50,469.59 L561.19,469.45 L561.87,469.30 L562.55,469.14 L563.23,468.97 L563.91,468.79 L564.59,468.61 L565.26,468.42 L565.94,468.22 L566.61,468.03 L567.28,467.83 L567.95,467.63 L568.63,467.44 L569.30,467.24 L569.97,467.05 L570.65,466.87 L571.33,466.69 L572.01,466.51 L572.69,466.35 L573.37,466.18 L574.05,466.03 L574.74,465.89 L575.42,465.75 L576.11,465.62 L576.80,465.50 L577.49,465.40 L578.19,465.30 L578.88,465.21 L579.58,465.13 L580.28,465.06 L580.97,465.00 L581.67,464.95 L582.37,464.90 L583.07,464.86 L583.77,464.83 L584.47,464.80 L585.17,464.78 L585.87,464.76 L586.57,464.75 L587.27,464.74 L587.97,464.73 L588.67,464.72 L589.38,464.72 L590.08,464.72 L590.78,464.72 L591.48,464.72 L592.18,464.73 L592.88,464.73 L593.58,464.74 L594.28,464.75 L594.98,464.76 L595.68,464.77 L596.38,464.78 L597.08,464.80 L597.79,464.81 L598.49,464.83 L599.19,464.85 L599.89,464.87 L600.59,464.88 L601.29,464.90 L601.99,464.92 L602.69,464.94 L603.39,464.97 L604.09,464.99 L604.79,465.01 L605.49,465.03 L606.19,465.06 L606.89,465.08 L607.59,465.10 L608.29,465.12 L608.99,465.15 L609.70,465.17 L610.40,465.19 L611.10,465.21 L611.80,465.23 L612.50,465.25 L613.20,465.27 L613.90,465.28 L614.60,465.30" fill="none" stroke="#ED7D31" stroke-width="3.6" stroke-linejoin="round" stroke-linecap="round" clip-path="url(#cb)"/>
<path d="M66.30,414.00 L66.50,414.67 L66.69,415.35 L66.89,416.02 L67.08,416.69 L67.27,417.37 L67.47,418.04 L67.66,418.71 L67.86,419.39 L68.06,420.06 L68.25,420.73 L68.45,421.40 L68.64,422.08 L68.84,422.75 L69.04,423.42 L69.24,424.09 L69.44,424.76 L69.64,425.44 L69.84,426.11 L70.04,426.78 L70.25,427.45 L70.45,428.12 L70.65,428.79 L70.86,429.46 L71.06,430.13 L71.27,430.80 L71.48,431.47 L71.69,432.14 L71.89,432.81 L72.10,433.48 L72.31,434.15 L72.52,434.81 L72.73,435.48 L72.94,436.15 L73.15,436.82 L73.36,437.49 L73.57,438.16 L73.78,438.83 L73.99,439.49 L74.21,440.16 L74.42,440.83 L74.63,441.50 L74.84,442.17 L75.05,442.83 L75.27,443.50 L75.48,444.17 L75.69,444.84 L75.90,445.51 L76.12,446.17 L76.33,446.84 L76.54,447.51 L76.76,448.18 L76.97,448.84 L77.19,449.51 L77.41,450.17 L77.62,450.84 L77.84,451.51 L78.06,452.17 L78.28,452.84 L78.51,453.50 L78.73,454.17 L78.95,454.83 L79.17,455.50 L79.40,456.16 L79.62,456.82 L79.84,457.49 L80.07,458.15 L80.29,458.82 L80.51,459.48 L80.73,460.15 L80.96,460.81 L81.18,461.48 L81.40,462.14 L81.62,462.81 L81.84,463.47 L82.06,464.14 L82.27,464.80 L82.49,465.47 L82.71,466.14 L82.92,466.80 L83.13,467.47 L83.35,468.14 L83.56,468.81 L83.77,469.48 L83.98,470.15 L84.18,470.81 L84.39,471.48 L84.60,472.15 L84.80,472.83 L85.00,473.50 L85.20,474.17 L85.40,474.84 L85.60,475.51 L85.79,476.19 L85.98,476.86 L86.17,477.53 L86.36,478.21 L86.55,478.88 L86.73,479.56 L86.92,480.24 L87.10,480.91 L87.27,481.59 L87.45,482.27 L87.62,482.95 L87.80,483.63 L87.97,484.31 L88.14,484.99 L88.30,485.67 L88.47,486.35 L88.64,487.03 L88.80,487.71 L88.96,488.39 L89.13,489.07 L89.29,489.76 L89.45,490.44 L89.61,491.12 L89.77,491.80 L89.93,492.49 L90.09,493.17 L90.25,493.85 L90.40,494.53 L90.56,495.22 L90.72,495.90 L90.88,496.58 L91.03,497.27 L91.19,497.95 L91.35,498.63 L91.51,499.31 L91.67,500.00 L91.82,500.68 L91.98,501.36 L92.14,502.04 L92.30,502.73 L92.46,503.41 L92.62,504.09 L92.78,504.77 L92.95,505.45 L93.11,506.14 L93.27,506.82 L93.44,507.50 L93.60,508.18 L93.77,508.86 L93.94,509.54 L94.11,510.22 L94.28,510.90 L94.46,511.58 L94.64,512.26 L94.81,512.93 L95.00,513.61 L95.18,514.29 L95.37,514.96 L95.56,515.64 L95.75,516.31 L95.95,516.98 L96.15,517.65 L96.36,518.32 L96.57,518.99 L96.78,519.66 L96.99,520.33 L97.21,520.99 L97.43,521.66 L97.66,522.32 L97.89,522.98 L98.12,523.64 L98.35,524.30 L98.59,524.96 L98.83,525.62 L99.07,526.28 L99.32,526.93 L99.58,527.59 L99.83,528.24 L100.09,528.89 L100.36,529.54 L100.62,530.19 L100.90,530.83 L101.17,531.48 L101.46,532.12 L101.74,532.76 L102.04,533.39 L102.34,534.02 L102.65,534.65 L102.96,535.28 L103.29,535.89 L103.62,536.49 L103.97,537.07 L104.35,537.61 L104.74,538.09 L105.17,538.47 L105.62,538.74 L106.10,538.87 L106.61,538.86 L107.14,538.73 L107.69,538.50 L108.26,538.21 L108.83,537.87 L109.41,537.51 L109.99,537.13 L110.58,536.74 L111.16,536.35 L111.73,535.96 L112.30,535.55 L112.87,535.15 L113.44,534.74 L114.01,534.33 L114.58,533.92 L115.15,533.51 L115.72,533.11 L116.30,532.70 L116.88,532.31 L117.46,531.92 L118.04,531.53 L118.63,531.15 L119.23,530.78 L119.82,530.42 L120.43,530.07 L121.04,529.72 L121.65,529.38 L122.27,529.05 L122.89,528.72 L123.51,528.40 L124.13,528.09 L124.76,527.77 L125.39,527.46 L126.02,527.16 L126.65,526.86 L127.29,526.56 L127.92,526.26 L128.56,525.97 L129.20,525.68 L129.84,525.40 L130.48,525.12 L131.12,524.84 L131.77,524.57 L132.42,524.29 L133.06,524.03 L133.71,523.76 L134.36,523.50 L135.01,523.24 L135.67,522.99 L136.32,522.73 L136.97,522.49 L137.63,522.24 L138.29,522.00 L138.95,521.76 L139.61,521.53 L140.27,521.29 L140.93,521.06 L141.59,520.84 L142.26,520.61 L142.92,520.39 L143.59,520.18 L144.26,519.96 L144.92,519.75 L145.59,519.54 L146.26,519.33 L146.93,519.13 L147.60,518.93 L148.28,518.73 L148.95,518.53 L149.62,518.34 L150.30,518.15 L150.97,517.96 L151.65,517.78 L152.32,517.59 L153.00,517.41 L153.68,517.24 L154.36,517.06 L155.04,516.89 L155.72,516.72 L156.40,516.56 L157.08,516.40 L157.76,516.24 L158.45,516.09 L159.13,515.94 L159.82,515.79 L160.50,515.65 L161.19,515.51 L161.88,515.37 L162.57,515.24 L163.26,515.11 L163.95,514.99 L164.64,514.87 L165.33,514.74 L166.02,514.63 L166.71,514.51 L167.40,514.40 L168.09,514.29 L168.78,514.17 L169.47,514.07 L170.17,513.96 L170.86,513.85 L171.55,513.75 L172.25,513.64 L172.94,513.54 L173.63,513.43 L174.32,513.33 L175.02,513.22 L175.71,513.12 L176.40,513.02 L177.10,512.91 L177.79,512.81 L178.48,512.71 L179.18,512.61 L179.87,512.51 L180.56,512.41 L181.26,512.31 L181.95,512.21 L182.65,512.12 L183.34,512.02 L184.04,511.93 L184.73,511.84 L185.43,511.75 L186.12,511.66 L186.82,511.57 L187.51,511.49 L188.21,511.41 L188.90,511.33 L189.60,511.25 L190.30,511.17 L190.99,511.09 L191.69,511.02 L192.39,510.94 L193.08,510.87 L193.78,510.80 L194.48,510.73 L195.18,510.66 L195.87,510.58 L196.57,510.51 L197.27,510.44 L197.96,510.36 L198.66,510.29 L199.36,510.22 L200.05,510.15 L200.75,510.09 L201.45,510.03 L202.15,509.97 L202.85,509.92 L203.55,509.88 L204.25,509.85 L204.95,509.83 L205.65,509.82 L206.35,509.82 L207.04,509.84 L207.74,509.87 L208.44,509.92 L209.14,509.98 L209.83,510.07 L210.52,510.17 L211.21,510.29 L211.90,510.42 L212.58,510.57 L213.26,510.74 L213.94,510.91 L214.61,511.10 L215.28,511.30 L215.95,511.51 L216.62,511.72 L217.29,511.94 L217.95,512.16 L218.61,512.38 L219.28,512.61 L219.94,512.83 L220.61,513.05 L221.28,513.26 L221.94,513.47 L222.61,513.68 L223.28,513.89 L223.95,514.10 L224.62,514.31 L225.29,514.52 L225.96,514.72 L226.63,514.93 L227.30,515.14 L227.97,515.34 L228.64,515.53 L229.32,515.72 L229.99,515.90 L230.67,516.07 L231.35,516.23 L232.04,516.38 L232.72,516.52 L233.41,516.66 L234.10,516.78 L234.79,516.90 L235.48,517.02 L236.17,517.14 L236.86,517.25 L237.55,517.38 L238.24,517.50 L238.93,517.64 L239.61,517.78 L240.29,517.94 L240.97,518.11 L241.65,518.30 L242.31,518.50 L242.98,518.73 L243.63,518.97 L244.28,519.23 L244.92,519.52 L245.55,519.82 L246.17,520.13 L246.78,520.47 L247.39,520.81 L247.99,521.17 L248.58,521.55 L249.17,521.93 L249.74,522.33 L250.31,522.74 L250.87,523.15 L251.43,523.58 L251.98,524.01 L252.52,524.46 L253.05,524.91 L253.58,525.37 L254.11,525.83 L254.62,526.31 L255.13,526.79 L255.63,527.27 L256.13,527.77 L256.62,528.27 L257.10,528.78 L257.57,529.30 L258.04,529.82 L258.50,530.35 L258.95,530.88 L259.40,531.42 L259.83,531.97 L260.27,532.52 L260.69,533.08 L261.11,533.64 L261.52,534.20 L261.93,534.77 L262.33,535.35 L262.72,535.93 L263.11,536.51 L263.49,537.10 L263.86,537.69 L264.23,538.29 L264.59,538.89 L264.94,539.49 L265.29,540.10 L265.63,540.72 L265.95,541.34 L266.27,541.96 L266.57,542.59 L266.87,543.23 L267.15,543.87 L267.42,544.51 L267.68,545.16 L267.93,545.82 L268.18,546.47 L268.41,547.13 L268.65,547.79 L268.87,548.46 L269.09,549.12 L269.31,549.79 L269.52,550.46 L269.72,551.13 L269.92,551.80 L270.12,552.47 L270.31,553.14 L270.50,553.82 L270.68,554.50 L270.87,555.17 L271.05,555.85 L271.23,556.53 L271.40,557.20 L271.58,557.88 L271.75,558.56 L271.92,559.24 L272.09,559.92 L272.26,560.60 L272.43,561.28 L272.60,561.96 L272.77,562.64 L272.94,563.32 L273.11,564.00 L273.28,564.68 L273.45,565.36 L273.61,566.04 L273.78,566.72 L273.95,567.40 L274.13,568.08 L274.30,568.76 L274.47,569.44 L274.64,570.12 L274.82,570.80 L275.00,571.48 L275.17,572.15 L275.35,572.83 L275.53,573.51 L275.71,574.19 L275.90,574.86 L276.08,575.54 L276.26,576.22 L276.45,576.89 L276.63,577.57 L276.82,578.24 L277.01,578.92 L277.20,579.59 L277.38,580.27 L277.57,580.94 L277.76,581.62 L277.95,582.29 L278.14,582.97 L278.33,583.64 L278.52,584.32 L278.71,584.99 L278.90,585.67 L279.09,586.34 L279.28,587.01 L279.47,587.69 L279.66,588.36 L279.85,589.04 L280.04,589.71 L280.23,590.39 L280.43,591.06 L280.62,591.73 L280.81,592.41 L281.00,593.08 L281.19,593.76 L281.39,594.43 L281.58,595.10 L281.77,595.78 L281.96,596.45 L282.16,597.13 L282.35,597.80 L282.54,598.47 L282.73,599.15 L282.92,599.82 L283.12,600.50 L283.31,601.17 L283.50,601.84 L283.69,602.52 L283.88,603.19 L284.08,603.87 L284.27,604.54 L284.46,605.21 L284.65,605.89 L284.84,606.56 L285.03,607.24 L285.22,607.91 L285.41,608.59 L285.60,609.26 L285.78,609.94 L285.97,610.61 L286.16,611.29 L286.34,611.96 L286.53,612.64 L286.72,613.31 L286.90,613.99 L287.09,614.67 L287.27,615.34 L287.46,616.02 L287.65,616.69 L287.83,617.37 L288.02,618.04 L288.20,618.72 L288.39,619.40 L288.58,620.07 L288.76,620.75 L288.95,621.42 L289.14,622.10 L289.32,622.77 L289.51,623.45 L289.70,624.12 L289.88,624.80 L290.07,625.47 L290.26,626.15 L290.45,626.82 L290.64,627.50 L290.83,628.17 L291.02,628.85 L291.21,629.52 L291.40,630.20 L291.60,630.87 L291.79,631.54 L291.98,632.22 L292.18,632.89 L292.37,633.56 L292.57,634.24 L292.77,634.91 L292.97,635.58 L293.17,636.25 L293.37,636.92 L293.57,637.59 L293.77,638.27 L293.98,638.94 L294.18,639.61 L294.39,640.28 L294.60,640.94 L294.81,641.61 L295.02,642.28 L295.23,642.95 L295.45,643.62 L295.66,644.28 L295.88,644.95 L296.09,645.62 L296.31,646.28 L296.53,646.95 L296.75,647.61 L296.97,648.28 L297.19,648.95 L297.41,649.61 L297.63,650.28 L297.85,650.94 L298.07,651.61 L298.29,652.27 L298.52,652.93 L298.74,653.60 L298.97,654.26 L299.19,654.92 L299.42,655.59 L299.65,656.25 L299.88,656.91 L300.12,657.57 L300.35,658.23 L300.59,658.89 L300.83,659.55 L301.07,660.21 L301.32,660.86 L301.56,661.52 L301.81,662.17 L302.07,662.83 L302.32,663.48 L302.58,664.13 L302.84,664.78 L303.11,665.43 L303.38,666.08 L303.65,666.72 L303.93,667.36 L304.21,668.00 L304.50,668.64 L304.79,669.28 L305.09,669.92 L305.39,670.55 L305.70,671.18 L306.01,671.80 L306.34,672.43 L306.66,673.04 L307.00,673.66 L307.34,674.27 L307.69,674.88 L308.05,675.48 L308.41,676.08 L308.78,676.67 L309.17,677.26 L309.56,677.84 L309.95,678.41 L310.36,678.98 L310.77,679.55 L311.20,680.11 L311.62,680.66 L312.06,681.21 L312.50,681.76 L312.94,682.30 L313.39,682.84 L313.85,683.37 L314.30,683.90 L314.76,684.43 L315.23,684.96 L315.69,685.48 L316.15,686.01 L316.62,686.53 L317.08,687.06 L317.55,687.58 L318.01,688.11 L318.47,688.64 L318.93,689.17 L319.38,689.70 L319.84,690.23 L320.29,690.77 L320.74,691.31 L321.19,691.84 L321.63,692.38 L322.08,692.93 L322.52,693.47 L322.97,694.01 L323.41,694.55 L323.85,695.10 L324.30,695.64 L324.74,696.18 L325.18,696.73 L325.62,697.27 L326.07,697.81 L326.51,698.35 L326.96,698.90 L327.40,699.44 L327.85,699.98 L328.29,700.52 L328.74,701.06 L329.19,701.59 L329.64,702.13 L330.09,702.67 L330.55,703.20 L331.00,703.74 L331.46,704.27 L331.91,704.80 L332.38,705.33 L332.84,705.85 L333.30,706.38 L333.77,706.90 L334.24,707.42 L334.71,707.93 L335.19,708.45 L335.67,708.96 L336.15,709.46 L336.64,709.97 L337.14,710.46 L337.63,710.96 L338.14,711.44 L338.65,711.92 L339.16,712.40 L339.69,712.86 L340.22,713.32 L340.75,713.77 L341.30,714.21 L341.85,714.64 L342.41,715.05 L342.98,715.46 L343.56,715.86 L344.15,716.24 L344.74,716.61 L345.34,716.97 L345.95,717.31 L346.56,717.64 L347.19,717.97 L347.81,718.28 L348.45,718.58 L349.08,718.87 L349.72,719.15 L350.37,719.43 L351.01,719.70 L351.66,719.97 L352.31,720.24 L352.95,720.51 L353.60,720.78 L354.25,721.05 L354.89,721.32 L355.54,721.59 L356.18,721.87 L356.82,722.15 L357.47,722.43 L358.11,722.70 L358.75,722.98 L359.40,723.26 L360.04,723.53 L360.69,723.81 L361.33,724.08 L361.98,724.35 L362.63,724.62 L363.28,724.88 L363.93,725.15 L364.58,725.41 L365.23,725.67 L365.88,725.93 L366.53,726.18 L367.18,726.44 L367.84,726.69 L368.49,726.94 L369.15,727.19 L369.80,727.44 L370.46,727.68 L371.12,727.92 L371.77,728.16 L372.43,728.40 L373.09,728.64 L373.75,728.87 L374.42,729.10 L375.08,729.33 L375.74,729.55 L376.41,729.78 L377.07,730.00 L377.74,730.21 L378.41,730.43 L379.07,730.64 L379.74,730.85 L380.41,731.05 L381.08,731.25 L381.76,731.45 L382.43,731.65 L383.10,731.84 L383.78,732.03 L384.45,732.22 L385.13,732.40 L385.81,732.58 L386.48,732.76 L387.16,732.93 L387.84,733.10 L388.52,733.27 L389.20,733.44 L389.88,733.60 L390.57,733.77 L391.25,733.93 L391.93,734.08 L392.62,734.24 L393.30,734.39 L393.98,734.54 L394.67,734.69 L395.35,734.84 L396.04,734.98 L396.72,735.13 L397.41,735.27 L398.10,735.41 L398.78,735.55 L399.47,735.69 L400.16,735.83 L400.85,735.96 L401.53,736.10 L402.22,736.23 L402.91,736.36 L403.60,736.48 L404.29,736.61 L404.98,736.73 L405.67,736.86 L406.36,736.97 L407.05,737.09 L407.74,737.21 L408.43,737.32 L409.12,737.43 L409.82,737.54 L410.51,737.65 L411.20,737.76 L411.89,737.87 L412.59,737.97 L413.28,738.08 L413.97,738.18 L414.67,738.28 L415.36,738.38 L416.05,738.48 L416.75,738.58 L417.44,738.68 L418.14,738.77 L418.83,738.87 L419.52,738.96 L420.22,739.06 L420.91,739.15 L421.61,739.25 L422.30,739.34 L423.00,739.43 L423.69,739.52 L424.39,739.62 L425.08,739.71 L425.78,739.80 L426.47,739.89 L427.17,739.97 L427.86,740.06 L428.56,740.14 L429.25,740.23 L429.95,740.31 L430.65,740.39 L431.34,740.47 L432.04,740.55 L432.73,740.63 L433.43,740.71 L434.13,740.78 L434.82,740.86 L435.52,740.94 L436.22,741.01 L436.91,741.09 L437.61,741.16 L438.31,741.23 L439.01,741.31 L439.70,741.38 L440.40,741.45 L441.10,741.53 L441.79,741.60 L442.49,741.68 L443.19,741.75 L443.88,741.82 L444.58,741.90 L445.28,741.98 L445.97,742.05 L446.67,742.13 L447.37,742.20 L448.06,742.28 L448.76,742.36 L449.46,742.44 L450.15,742.52 L450.85,742.61 L451.54,742.69 L452.24,742.77 L452.94,742.86 L453.63,742.95 L454.33,743.03 L455.02,743.12 L455.72,743.21 L456.41,743.30 L457.11,743.39 L457.80,743.49 L458.50,743.58 L459.19,743.67 L459.88,743.76 L460.58,743.85 L461.27,743.94 L461.97,744.04 L462.66,744.13 L463.36,744.22 L464.05,744.31 L464.75,744.40 L465.44,744.48 L466.14,744.57 L466.84,744.66 L467.53,744.74 L468.23,744.83 L468.92,744.91 L469.62,744.99 L470.32,745.07 L471.01,745.15 L471.71,745.22 L472.41,745.30 L473.10,745.37 L473.80,745.44 L474.50,745.51 L475.19,745.57 L475.89,745.64 L476.59,745.70 L477.29,745.76 L477.99,745.81 L478.69,745.87 L479.38,745.92 L480.08,745.98 L480.78,746.03 L481.48,746.08 L482.18,746.12 L482.88,746.17 L483.58,746.21 L484.28,746.26 L484.98,746.30 L485.68,746.34 L486.38,746.38 L487.08,746.41 L487.78,746.45 L488.48,746.49 L489.18,746.52 L489.88,746.55 L490.58,746.59 L491.28,746.62 L491.98,746.65 L492.68,746.68 L493.38,746.70 L494.08,746.73 L494.78,746.76 L495.48,746.78 L496.18,746.81 L496.88,746.84 L497.58,746.86 L498.28,746.88 L498.98,746.91 L499.68,746.93 L500.38,746.95 L501.08,746.98 L501.78,747.00 L502.48,747.02 L503.18,747.04 L503.88,747.06 L504.58,747.09 L505.28,747.11 L505.99,747.13 L506.69,747.15 L507.39,747.17 L508.09,747.19 L508.79,747.21 L509.49,747.23 L510.19,747.26 L510.89,747.28 L511.59,747.30 L512.29,747.32 L512.99,747.34 L513.69,747.35 L514.39,747.37 L515.09,747.39 L515.79,747.41 L516.49,747.43 L517.19,747.45 L517.89,747.46 L518.59,747.48 L519.30,747.50 L520.00,747.52 L520.70,747.53 L521.40,747.55 L522.10,747.56 L522.80,747.58 L523.50,747.59 L524.20,747.61 L524.90,747.62 L525.60,747.64 L526.30,747.65 L527.00,747.67 L527.70,747.68 L528.40,747.69 L529.10,747.71 L529.81,747.72 L530.51,747.73 L531.21,747.74 L531.91,747.76 L532.61,747.77 L533.31,747.78 L534.01,747.79 L534.71,747.80 L535.41,747.81 L536.11,747.82 L536.81,747.84 L537.51,747.85 L538.21,747.86 L538.91,747.87 L539.62,747.88 L540.32,747.88 L541.02,747.89 L541.72,747.90 L542.42,747.91 L543.12,747.92 L543.82,747.93 L544.52,747.94 L545.22,747.95 L545.92,747.95 L546.62,747.96 L547.32,747.97 L548.02,747.98 L548.73,747.99 L549.43,747.99 L550.13,748.00 L550.83,748.01 L551.53,748.01 L552.23,748.02 L552.93,748.03 L553.63,748.03 L554.33,748.04 L555.03,748.04 L555.73,748.05 L556.43,748.06 L557.13,748.06 L557.84,748.07 L558.54,748.07 L559.24,748.08 L559.94,748.08 L560.64,748.08 L561.34,748.09 L562.04,748.09 L562.74,748.10 L563.44,748.10 L564.14,748.11 L564.84,748.11 L565.54,748.11 L566.24,748.12 L566.95,748.12 L567.65,748.13 L568.35,748.13 L569.05,748.13 L569.75,748.14 L570.45,748.14 L571.15,748.14 L571.85,748.15 L572.55,748.15 L573.25,748.15 L573.95,748.16 L574.65,748.16 L575.36,748.16 L576.06,748.16 L576.76,748.17 L577.46,748.17 L578.16,748.17 L578.86,748.18 L579.56,748.18 L580.26,748.18 L580.96,748.18 L581.66,748.19 L582.36,748.19 L583.06,748.19 L583.76,748.20 L584.47,748.20 L585.17,748.20 L585.87,748.20 L586.57,748.21 L587.27,748.21 L587.97,748.21 L588.67,748.21 L589.37,748.22 L590.07,748.22 L590.77,748.22 L591.47,748.22 L592.17,748.23 L592.88,748.23 L593.58,748.23 L594.28,748.23 L594.98,748.23 L595.68,748.24 L596.38,748.24 L597.08,748.24 L597.78,748.24 L598.48,748.25 L599.18,748.25 L599.88,748.25 L600.58,748.25 L601.28,748.25 L601.99,748.26 L602.69,748.26 L603.39,748.26 L604.09,748.26 L604.79,748.27 L605.49,748.27 L606.19,748.27 L606.89,748.27 L607.59,748.27 L608.29,748.28 L608.99,748.28 L609.69,748.28 L610.40,748.28 L611.10,748.29 L611.80,748.29 L612.50,748.29 L613.20,748.29 L613.90,748.30 L614.60,748.30" fill="none" stroke="#AFAFAF" stroke-width="3.6" stroke-linejoin="round" stroke-linecap="round" clip-path="url(#cb)"/>
<path d="M66.30,759.50 L67.00,759.42 L67.69,759.34 L68.39,759.26 L69.09,759.19 L69.78,759.11 L70.48,759.03 L71.18,758.96 L71.88,758.88 L72.57,758.80 L73.27,758.72 L73.97,758.64 L74.66,758.57 L75.36,758.48 L76.06,758.40 L76.75,758.32 L77.45,758.24 L78.15,758.15 L78.84,758.06 L79.54,757.98 L80.23,757.88 L80.93,757.79 L81.62,757.70 L82.32,757.60 L83.01,757.49 L83.70,757.39 L84.40,757.28 L85.09,757.16 L85.78,757.04 L86.47,756.92 L87.16,756.79 L87.84,756.65 L88.53,756.51 L89.22,756.37 L89.90,756.22 L90.59,756.08 L91.27,755.92 L91.96,755.77 L92.64,755.61 L93.32,755.45 L94.01,755.30 L94.69,755.14 L95.37,754.98 L96.06,754.82 L96.74,754.66 L97.42,754.50 L98.11,754.35 L98.79,754.20 L99.48,754.05 L100.16,753.90 L100.85,753.76 L101.54,753.63 L102.23,753.50 L102.92,753.38 L103.61,753.27 L104.30,753.18 L104.99,753.11 L105.69,753.05 L106.39,753.02 L107.09,753.01 L107.79,753.01 L108.49,753.03 L109.19,753.05 L109.89,753.08 L110.59,753.12 L111.29,753.17 L111.99,753.22 L112.68,753.27 L113.38,753.32 L114.08,753.38 L114.78,753.44 L115.48,753.50 L116.18,753.56 L116.88,753.62 L117.58,753.68 L118.28,753.74 L118.97,753.80 L119.67,753.85 L120.37,753.91 L121.07,753.96 L121.77,754.01 L122.47,754.05 L123.17,754.10 L123.87,754.14 L124.57,754.18 L125.27,754.22 L125.97,754.25 L126.67,754.29 L127.37,754.32 L128.07,754.34 L128.77,754.37 L129.48,754.39 L130.18,754.42 L130.88,754.44 L131.58,754.46 L132.28,754.48 L132.98,754.50 L133.68,754.51 L134.38,754.53 L135.08,754.54 L135.78,754.56 L136.49,754.57 L137.19,754.59 L137.89,754.60 L138.59,754.61 L139.29,754.62 L139.99,754.63 L140.69,754.65 L141.39,754.66 L142.10,754.67 L142.80,754.68 L143.50,754.69 L144.20,754.70 L144.90,754.71 L145.60,754.72 L146.30,754.72 L147.00,754.73 L147.70,754.74 L148.41,754.75 L149.11,754.76 L149.81,754.77 L150.51,754.77 L151.21,754.78 L151.91,754.79 L152.61,754.80 L153.31,754.80 L154.02,754.81 L154.72,754.82 L155.42,754.83 L156.12,754.83 L156.82,754.84 L157.52,754.85 L158.22,754.86 L158.93,754.86 L159.63,754.87 L160.33,754.88 L161.03,754.89 L161.73,754.89 L162.43,754.90 L163.13,754.91 L163.83,754.92 L164.54,754.92 L165.24,754.93 L165.94,754.94 L166.64,754.95 L167.34,754.96 L168.04,754.96 L168.74,754.97 L169.44,754.98 L170.14,754.99 L170.85,755.00 L171.55,755.01 L172.25,755.02 L172.95,755.03 L173.65,755.04 L174.35,755.05 L175.05,755.06 L175.75,755.07 L176.46,755.08 L177.16,755.09 L177.86,755.10 L178.56,755.11 L179.26,755.12 L179.96,755.13 L180.66,755.14 L181.36,755.15 L182.07,755.16 L182.77,755.17 L183.47,755.18 L184.17,755.19 L184.87,755.20 L185.57,755.21 L186.27,755.22 L186.97,755.23 L187.68,755.25 L188.38,755.26 L189.08,755.27 L189.78,755.28 L190.48,755.29 L191.18,755.30 L191.88,755.31 L192.58,755.32 L193.29,755.33 L193.99,755.34 L194.69,755.35 L195.39,755.36 L196.09,755.36 L196.79,755.37 L197.49,755.38 L198.19,755.39 L198.90,755.40 L199.60,755.41 L200.30,755.42 L201.00,755.42 L201.70,755.43 L202.40,755.44 L203.10,755.45 L203.80,755.45 L204.51,755.46 L205.21,755.46 L205.91,755.47 L206.61,755.47 L207.31,755.48 L208.01,755.48 L208.71,755.49 L209.41,755.49 L210.12,755.49 L210.82,755.49 L211.52,755.50 L212.22,755.50 L212.92,755.50 L213.62,755.50 L214.32,755.50 L215.02,755.49 L215.73,755.49 L216.43,755.49 L217.13,755.49 L217.83,755.48 L218.53,755.48 L219.23,755.47 L219.93,755.47 L220.63,755.46 L221.34,755.46 L222.04,755.45 L222.74,755.44 L223.44,755.43 L224.14,755.42 L224.84,755.41 L225.54,755.40 L226.24,755.39 L226.95,755.37 L227.65,755.36 L228.35,755.34 L229.05,755.33 L229.75,755.31 L230.45,755.30 L231.15,755.28 L231.85,755.26 L232.55,755.24 L233.26,755.22 L233.96,755.20 L234.66,755.18 L235.36,755.16 L236.06,755.13 L236.76,755.11 L237.46,755.09 L238.16,755.06 L238.86,755.04 L239.56,755.02 L240.26,755.00 L240.97,754.97 L241.67,754.95 L242.37,754.93 L243.07,754.92 L243.77,754.90 L244.47,754.89 L245.17,754.87 L245.87,754.86 L246.57,754.84 L247.28,754.83 L247.98,754.82 L248.68,754.80 L249.38,754.79 L250.08,754.77 L250.78,754.76 L251.48,754.74 L252.18,754.72 L252.88,754.70 L253.58,754.67 L254.29,754.65 L254.99,754.62 L255.69,754.58 L256.39,754.55 L257.09,754.51 L257.79,754.46 L258.49,754.41 L259.18,754.35 L259.88,754.28 L260.58,754.21 L261.28,754.13 L261.97,754.05 L262.67,753.95 L263.36,753.84 L264.05,753.73 L264.74,753.60 L265.42,753.46 L266.11,753.31 L266.79,753.15 L267.47,752.97 L268.14,752.79 L268.81,752.59 L269.48,752.38 L270.15,752.16 L270.81,751.92 L271.46,751.68 L272.12,751.42 L272.76,751.16 L273.41,750.88 L274.05,750.60 L274.69,750.31 L275.32,750.01 L275.95,749.70 L276.58,749.38 L277.20,749.06 L277.82,748.74 L278.44,748.41 L279.06,748.08 L279.68,747.75 L280.29,747.41 L280.90,747.07 L281.52,746.73 L282.13,746.39 L282.74,746.04 L283.34,745.68 L283.94,745.33 L284.54,744.96 L285.14,744.59 L285.73,744.22 L286.32,743.84 L286.91,743.45 L287.49,743.06 L288.07,742.67 L288.64,742.27 L289.22,741.86 L289.78,741.45 L290.35,741.04 L290.91,740.62 L291.47,740.20 L292.03,739.77 L292.58,739.34 L293.13,738.91 L293.68,738.47 L294.22,738.02 L294.77,737.58 L295.30,737.13 L295.83,736.67 L296.36,736.21 L296.88,735.74 L297.39,735.26 L297.90,734.78 L298.40,734.29 L298.90,733.80 L299.39,733.30 L299.88,732.79 L300.37,732.29 L300.85,731.78 L301.33,731.27 L301.81,730.75 L302.29,730.24 L302.77,729.73 L303.25,729.22 L303.73,728.71 L304.22,728.21 L304.71,727.71 L305.20,727.21 L305.70,726.71 L306.20,726.22 L306.71,725.74 L307.22,725.26 L307.73,724.78 L308.25,724.31 L308.77,723.84 L309.29,723.38 L309.82,722.91 L310.35,722.45 L310.88,721.99 L311.41,721.53 L311.94,721.07 L312.47,720.62 L313.00,720.16 L313.53,719.70 L314.07,719.24 L314.59,718.78 L315.12,718.32 L315.65,717.86 L316.17,717.39 L316.70,716.93 L317.21,716.45 L317.73,715.98 L318.24,715.50 L318.75,715.01 L319.25,714.52 L319.74,714.02 L320.23,713.52 L320.71,713.01 L321.18,712.49 L321.64,711.97 L322.10,711.43 L322.54,710.89 L322.98,710.35 L323.41,709.79 L323.83,709.24 L324.25,708.67 L324.66,708.10 L325.07,707.53 L325.47,706.96 L325.87,706.38 L326.27,705.80 L326.67,705.23 L327.07,704.65 L327.47,704.08 L327.87,703.50 L328.28,702.93 L328.69,702.36 L329.10,701.79 L329.51,701.22 L329.92,700.66 L330.33,700.09 L330.73,699.52 L331.14,698.94 L331.55,698.37 L331.95,697.80 L332.36,697.23 L332.76,696.66 L333.17,696.08 L333.57,695.51 L333.98,694.94 L334.39,694.37 L334.80,693.80 L335.21,693.24 L335.63,692.67 L336.05,692.11 L336.46,691.54 L336.89,690.98 L337.31,690.43 L337.74,689.87 L338.17,689.32 L338.60,688.76 L339.04,688.22 L339.48,687.67 L339.92,687.13 L340.37,686.58 L340.82,686.05 L341.27,685.51 L341.72,684.98 L342.18,684.44 L342.64,683.91 L343.10,683.38 L343.56,682.86 L344.02,682.33 L344.49,681.81 L344.96,681.28 L345.42,680.76 L345.89,680.24 L346.36,679.72 L346.83,679.20 L347.30,678.67 L347.77,678.16 L348.24,677.64 L348.71,677.12 L349.18,676.60 L349.66,676.08 L350.13,675.56 L350.60,675.04 L351.07,674.52 L351.55,674.01 L352.02,673.49 L352.49,672.97 L352.96,672.45 L353.43,671.93 L353.90,671.41 L354.37,670.89 L354.84,670.37 L355.30,669.84 L355.77,669.31 L356.23,668.78 L356.68,668.25 L357.13,667.71 L357.56,667.17 L357.99,666.61 L358.41,666.05 L358.82,665.49 L359.23,664.92 L359.63,664.34 L360.03,663.77 L360.43,663.20 L360.84,662.62 L361.24,662.05 L361.65,661.48 L362.05,660.90 L362.46,660.33 L362.86,659.76 L363.26,659.18 L363.67,658.61 L364.07,658.04 L364.47,657.46 L364.88,656.89 L365.28,656.31 L365.68,655.74 L366.09,655.17 L366.49,654.59 L366.89,654.02 L367.30,653.45 L367.70,652.87 L368.11,652.30 L368.51,651.73 L368.92,651.16 L369.32,650.59 L369.73,650.01 L370.14,649.44 L370.55,648.87 L370.95,648.30 L371.36,647.73 L371.77,647.17 L372.18,646.60 L372.60,646.03 L373.01,645.46 L373.43,644.90 L373.84,644.33 L374.26,643.77 L374.68,643.21 L375.10,642.65 L375.52,642.08 L375.94,641.52 L376.36,640.96 L376.79,640.41 L377.21,639.85 L377.64,639.29 L378.06,638.73 L378.49,638.18 L378.92,637.63 L379.35,637.07 L379.79,636.52 L380.22,635.97 L380.66,635.42 L381.10,634.88 L381.54,634.33 L381.99,633.79 L382.43,633.25 L382.88,632.71 L383.33,632.17 L383.78,631.64 L384.24,631.10 L384.69,630.57 L385.15,630.04 L385.61,629.51 L386.07,628.98 L386.53,628.45 L387.00,627.93 L387.46,627.40 L387.93,626.88 L388.40,626.36 L388.87,625.84 L389.35,625.32 L389.82,624.81 L390.30,624.29 L390.78,623.78 L391.25,623.27 L391.73,622.75 L392.21,622.24 L392.69,621.73 L393.17,621.22 L393.66,620.71 L394.14,620.20 L394.62,619.69 L395.10,619.18 L395.58,618.67 L396.07,618.16 L396.55,617.66 L397.03,617.15 L397.51,616.63 L397.99,616.12 L398.47,615.61 L398.95,615.10 L399.43,614.59 L399.91,614.07 L400.38,613.56 L400.86,613.04 L401.33,612.53 L401.81,612.01 L402.28,611.49 L402.75,610.97 L403.22,610.45 L403.69,609.93 L404.15,609.40 L404.62,608.88 L405.08,608.35 L405.54,607.83 L406.00,607.30 L406.47,606.77 L406.92,606.24 L407.38,605.71 L407.84,605.18 L408.30,604.65 L408.76,604.12 L409.21,603.58 L409.67,603.05 L410.12,602.52 L410.58,601.98 L411.03,601.45 L411.49,600.91 L411.94,600.38 L412.39,599.84 L412.85,599.31 L413.30,598.77 L413.75,598.24 L414.20,597.70 L414.65,597.16 L415.11,596.63 L415.56,596.09 L416.01,595.56 L416.46,595.02 L416.92,594.48 L417.37,593.95 L417.82,593.41 L418.27,592.88 L418.73,592.34 L419.18,591.81 L419.63,591.27 L420.09,590.74 L420.54,590.20 L421.00,589.67 L421.45,589.14 L421.91,588.60 L422.36,588.07 L422.82,587.53 L423.27,587.00 L423.72,586.46 L424.17,585.93 L424.62,585.39 L425.07,584.85 L425.53,584.31 L425.98,583.78 L426.43,583.24 L426.88,582.71 L427.34,582.17 L427.80,581.64 L428.26,581.12 L428.72,580.59 L429.19,580.07 L429.67,579.55 L430.15,579.04 L430.63,578.53 L431.12,578.03 L431.61,577.54 L432.12,577.05 L432.62,576.56 L433.14,576.09 L433.65,575.62 L434.18,575.15 L434.71,574.69 L435.24,574.24 L435.78,573.78 L436.32,573.34 L436.86,572.89 L437.41,572.45 L437.95,572.01 L438.50,571.57 L439.04,571.13 L439.59,570.69 L440.13,570.25 L440.68,569.81 L441.22,569.36 L441.76,568.92 L442.31,568.48 L442.85,568.04 L443.40,567.60 L443.95,567.17 L444.50,566.73 L445.06,566.30 L445.61,565.87 L446.16,565.43 L446.70,564.99 L447.24,564.55 L447.78,564.09 L448.31,563.64 L448.83,563.17 L449.35,562.70 L449.86,562.22 L450.37,561.73 L450.86,561.24 L451.36,560.74 L451.84,560.24 L452.33,559.73 L452.81,559.22 L453.28,558.70 L453.75,558.18 L454.23,557.66 L454.69,557.14 L455.16,556.62 L455.63,556.09 L456.09,555.57 L456.55,555.04 L457.01,554.51 L457.47,553.98 L457.93,553.45 L458.39,552.92 L458.85,552.39 L459.30,551.85 L459.75,551.32 L460.21,550.78 L460.66,550.25 L461.11,549.71 L461.56,549.17 L462.01,548.63 L462.45,548.09 L462.90,547.55 L463.35,547.01 L463.79,546.47 L464.23,545.92 L464.67,545.38 L465.11,544.83 L465.55,544.29 L465.99,543.74 L466.43,543.19 L466.86,542.64 L467.30,542.09 L467.73,541.54 L468.16,540.98 L468.59,540.43 L469.02,539.87 L469.44,539.31 L469.86,538.75 L470.28,538.19 L470.69,537.62 L471.10,537.05 L471.51,536.48 L471.91,535.91 L472.31,535.33 L472.71,534.75 L473.10,534.17 L473.49,533.59 L473.88,533.01 L474.27,532.42 L474.65,531.84 L475.04,531.25 L475.42,530.66 L475.80,530.08 L476.19,529.49 L476.57,528.90 L476.95,528.31 L477.33,527.72 L477.72,527.14 L478.10,526.55 L478.48,525.96 L478.87,525.38 L479.26,524.79 L479.65,524.21 L480.04,523.63 L480.44,523.05 L480.84,522.48 L481.24,521.90 L481.64,521.33 L482.05,520.76 L482.47,520.20 L482.89,519.63 L483.31,519.08 L483.75,518.53 L484.19,517.98 L484.63,517.44 L485.08,516.90 L485.55,516.38 L486.02,515.86 L486.50,515.35 L486.98,514.84 L487.48,514.35 L487.98,513.86 L488.50,513.39 L489.02,512.92 L489.55,512.46 L490.08,512.01 L490.63,511.57 L491.18,511.13 L491.73,510.71 L492.30,510.29 L492.86,509.88 L493.44,509.48 L494.01,509.08 L494.60,508.69 L495.18,508.30 L495.77,507.91 L496.35,507.53 L496.94,507.15 L497.53,506.77 L498.12,506.39 L498.71,506.00 L499.29,505.62 L499.88,505.23 L500.46,504.84 L501.04,504.44 L501.61,504.04 L502.19,503.64 L502.76,503.23 L503.32,502.82 L503.89,502.40 L504.45,501.98 L505.01,501.56 L505.57,501.13 L506.12,500.71 L506.68,500.28 L507.23,499.85 L507.79,499.42 L508.34,498.99 L508.90,498.56 L509.45,498.13 L510.00,497.70 L510.56,497.28 L511.12,496.85 L511.67,496.42 L512.23,496.00 L512.79,495.58 L513.36,495.16 L513.92,494.74 L514.49,494.33 L515.06,493.92 L515.63,493.52 L516.20,493.12 L516.78,492.72 L517.36,492.33 L517.95,491.94 L518.54,491.57 L519.13,491.19 L519.73,490.83 L520.34,490.48 L520.95,490.13 L521.56,489.80 L522.18,489.47 L522.81,489.16 L523.44,488.86 L524.08,488.57 L524.73,488.30 L525.37,488.04 L526.03,487.78 L526.69,487.55 L527.35,487.32 L528.01,487.10 L528.68,486.89 L529.35,486.69 L530.03,486.49 L530.70,486.30 L531.38,486.12 L532.06,485.94 L532.74,485.77 L533.42,485.60 L534.10,485.43 L534.78,485.25 L535.46,485.08 L536.14,484.90 L536.81,484.72 L537.49,484.54 L538.16,484.35 L538.84,484.15 L539.51,483.95 L540.18,483.74 L540.84,483.52 L541.50,483.29 L542.16,483.06 L542.82,482.81 L543.48,482.56 L544.13,482.30 L544.78,482.04 L545.42,481.77 L546.07,481.50 L546.72,481.22 L547.36,480.94 L548.00,480.66 L548.64,480.38 L549.28,480.09 L549.92,479.81 L550.57,479.52 L551.21,479.24 L551.85,478.96 L552.49,478.68 L553.14,478.40 L553.78,478.13 L554.43,477.86 L555.08,477.59 L555.73,477.33 L556.38,477.08 L557.04,476.83 L557.70,476.59 L558.36,476.36 L559.02,476.14 L559.69,475.93 L560.36,475.73 L561.04,475.54 L561.71,475.36 L562.39,475.19 L563.08,475.03 L563.76,474.88 L564.45,474.74 L565.14,474.61 L565.83,474.49 L566.52,474.37 L567.21,474.26 L567.90,474.16 L568.60,474.06 L569.29,473.97 L569.99,473.88 L570.68,473.80 L571.38,473.72 L572.08,473.65 L572.78,473.57 L573.47,473.50 L574.17,473.42 L574.87,473.35 L575.57,473.28 L576.26,473.20 L576.96,473.12 L577.66,473.04 L578.35,472.96 L579.05,472.88 L579.74,472.79 L580.44,472.69 L581.13,472.60 L581.83,472.50 L582.52,472.40 L583.22,472.30 L583.91,472.20 L584.60,472.10 L585.30,472.00 L585.99,471.89 L586.69,471.79 L587.38,471.69 L588.07,471.58 L588.77,471.48 L589.46,471.38 L590.15,471.27 L590.85,471.17 L591.54,471.07 L592.24,470.97 L592.93,470.88 L593.63,470.78 L594.32,470.69 L595.02,470.59 L595.71,470.50 L596.41,470.42 L597.10,470.33 L597.80,470.25 L598.50,470.17 L599.19,470.10 L599.89,470.03 L600.59,469.97 L601.29,469.91 L601.99,469.85 L602.69,469.80 L603.39,469.76 L604.09,469.72 L604.79,469.68 L605.49,469.65 L606.19,469.62 L606.89,469.59 L607.59,469.57 L608.29,469.55 L608.99,469.53 L609.69,469.51 L610.39,469.49 L611.09,469.48 L611.80,469.46 L612.50,469.45 L613.20,469.43 L613.90,469.42 L614.60,469.40" fill="none" stroke="#5B9BD5" stroke-width="3.6" stroke-linejoin="round" stroke-linecap="round" clip-path="url(#cb)"/>
<rect x="615" y="761" width="6" height="1" fill="#B8B8B8"/>
<rect x="615" y="713" width="6" height="1" fill="#B8B8B8"/>
<rect x="615" y="666" width="6" height="1" fill="#B8B8B8"/>
<rect x="615" y="618" width="6" height="1" fill="#B8B8B8"/>
<rect x="615" y="570" width="6" height="1" fill="#B8B8B8"/>
<rect x="615" y="523" width="6" height="1" fill="#B8B8B8"/>
<rect x="615" y="475" width="6" height="1" fill="#B8B8B8"/>
<rect x="615" y="427" width="6" height="1" fill="#B8B8B8"/>
<text x="51.5" y="768.8" text-anchor="end" font-family='"Liberation Serif", serif' font-size="17.5" fill="#000">0</text>
<text x="51.5" y="727.1" text-anchor="end" font-family='"Liberation Serif", serif' font-size="17.5" fill="#000">10</text>
<text x="51.5" y="685.3" text-anchor="end" font-family='"Liberation Serif", serif' font-size="17.5" fill="#000">20</text>
<text x="51.5" y="643.6" text-anchor="end" font-family='"Liberation Serif", serif' font-size="17.5" fill="#000">30</text>
<text x="51.5" y="601.8" text-anchor="end" font-family='"Liberation Serif", serif' font-size="17.5" fill="#000">40</text>
<text x="51.5" y="560.1" text-anchor="end" font-family='"Liberation Serif", serif' font-size="17.5" fill="#000">50</text>
<text x="51.5" y="518.3" text-anchor="end" font-family='"Liberation Serif", serif' font-size="17.5" fill="#000">60</text>
<text x="51.5" y="476.6" text-anchor="end" font-family='"Liberation Serif", serif' font-size="17.5" fill="#000">70</text>
<text x="51.5" y="434.8" text-anchor="end" font-family='"Liberation Serif", serif' font-size="17.5" fill="#000">80</text>
<text x="631.5" y="770.2" font-family='"Liberation Serif", serif' font-size="19.5" fill="#595959">1</text>
<text x="631.5" y="722.5" font-family='"Liberation Serif", serif' font-size="19.5" fill="#595959">6</text>
<text x="631.5" y="674.8" font-family='"Liberation Serif", serif' font-size="19.5" fill="#595959">11</text>
<text x="631.5" y="627.1" font-family='"Liberation Serif", serif' font-size="19.5" fill="#595959">16</text>
<text x="631.5" y="579.3" font-family='"Liberation Serif", serif' font-size="19.5" fill="#595959">21</text>
<text x="631.5" y="531.6" font-family='"Liberation Serif", serif' font-size="19.5" fill="#595959">26</text>
<text x="631.5" y="483.9" font-family='"Liberation Serif", serif' font-size="19.5" fill="#595959">31</text>
<text x="631.5" y="436.2" font-family='"Liberation Serif", serif' font-size="19.5" fill="#595959">36</text>
<text x="66.5" y="786.6" text-anchor="middle" font-family='"Liberation Serif", serif' font-size="17.5" fill="#000">0</text>
<text x="112.2" y="786.6" text-anchor="middle" font-family='"Liberation Serif", serif' font-size="17.5" fill="#000">0.5</text>
<text x="157.8" y="786.6" text-anchor="middle" font-family='"Liberation Serif", serif' font-size="17.5" fill="#000">1</text>
<text x="203.5" y="786.6" text-anchor="middle" font-family='"Liberation Serif", serif' font-size="17.5" fill="#000">1.5</text>
<text x="249.2" y="786.6" text-anchor="middle" font-family='"Liberation Serif", serif' font-size="17.5" fill="#000">2</text>
<text x="294.8" y="786.6" text-anchor="middle" font-family='"Liberation Serif", serif' font-size="17.5" fill="#000">2.5</text>
<text x="340.5" y="786.6" text-anchor="middle" font-family='"Liberation Serif", serif' font-size="17.5" fill="#000">3</text>
<text x="386.2" y="786.6" text-anchor="middle" font-family='"Liberation Serif", serif' font-size="17.5" fill="#000">3.5</text>
<text x="431.8" y="786.6" text-anchor="middle" font-family='"Liberation Serif", serif' font-size="17.5" fill="#000">4</text>
<text x="477.5" y="786.6" text-anchor="middle" font-family='"Liberation Serif", serif' font-size="17.5" fill="#000">4.5</text>
<text x="523.2" y="786.6" text-anchor="middle" font-family='"Liberation Serif", serif' font-size="17.5" fill="#000">5</text>
<text x="568.8" y="786.6" text-anchor="middle" font-family='"Liberation Serif", serif' font-size="17.5" fill="#000">5.5</text>
<text x="614.5" y="786.6" text-anchor="middle" font-family='"Liberation Serif", serif' font-size="17.5" fill="#000">6</text>
<text x="341.0" y="808.6" text-anchor="middle" font-family='"Liberation Serif", serif' font-size="19.2" fill="#000">injection volume (PV)</text>
<text transform="translate(23.5,594.6) rotate(-90)" text-anchor="middle" font-family='"Liberation Serif", serif' font-size="19" fill="#000">Rf (vole%), Permeability (md)</text>
<text transform="translate(673,594.8) rotate(-90)" text-anchor="middle" font-family='"Liberation Serif", serif' font-size="19" fill="#000">differential pressure (KPa)</text>
<text transform="translate(84.2,460.4) scale(0.86,1)" font-family='"Liberation Sans", sans-serif' font-weight="bold" font-size="23.6" fill="#000">B</text>
<line x1="437.0" y1="626.1" x2="472.1" y2="626.1" stroke="#ED7D31" stroke-width="3.1" stroke-linecap="round"/>
<text x="477.7" y="630.4" font-family='"Liberation Serif", serif' font-size="17" fill="#000">RF</text>
<line x1="437.0" y1="656.0" x2="472.1" y2="656.0" stroke="#AFAFAF" stroke-width="3.1" stroke-linecap="round"/>
<text x="477.7" y="660.3" font-family='"Liberation Serif", serif' font-size="17" fill="#000">Permeability</text>
<line x1="437.0" y1="686.3" x2="472.1" y2="686.3" stroke="#5B9BD5" stroke-width="3.1" stroke-linecap="round"/>
<text x="477.7" y="690.6" font-family='"Liberation Serif", serif' font-size="17" fill="#000">Pressure</text>
</svg>
</body></html>
